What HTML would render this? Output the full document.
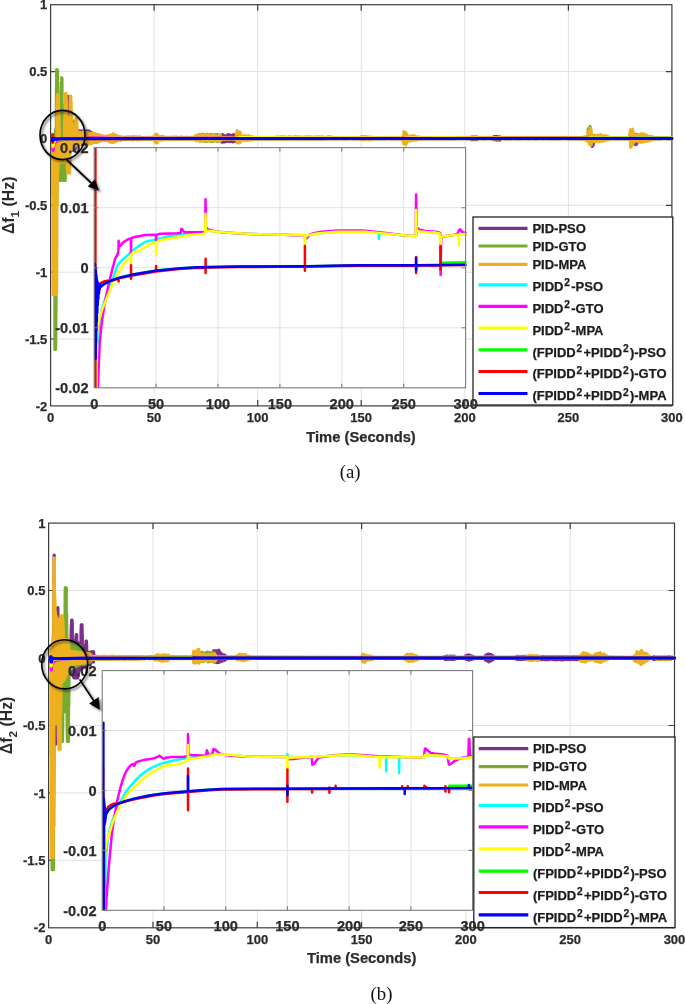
<!DOCTYPE html>
<html lang="en"><head><meta charset="utf-8"><title>Frequency deviation figure</title>
<style>html,body{margin:0;padding:0;background:#fff}svg{display:block}</style></head>
<body>
<svg width="685" height="1004" viewBox="0 0 685 1004">
<defs><filter id="sh" x="-20%" y="-20%" width="150%" height="150%"><feDropShadow dx="1.7" dy="1.7" stdDeviation="1.1" flood-color="#000" flood-opacity="0.6"/></filter></defs>
<rect width="685" height="1004" fill="#fff"/>
<clipPath id="coa"><rect x="50.6" y="4.7" width="622.8" height="401.2"/></clipPath>
<clipPath id="cia"><rect x="94.2" y="147.6" width="372.4" height="240.2"/></clipPath>
<path d="M154.1 4.7V405.9" stroke="#e1e1e1" stroke-width="1" fill="none"/>
<path d="M257.7 4.7V405.9" stroke="#e1e1e1" stroke-width="1" fill="none"/>
<path d="M361.2 4.7V405.9" stroke="#e1e1e1" stroke-width="1" fill="none"/>
<path d="M464.8 4.7V405.9" stroke="#e1e1e1" stroke-width="1" fill="none"/>
<path d="M568.4 4.7V405.9" stroke="#e1e1e1" stroke-width="1" fill="none"/>
<path d="M50.6 339H671.9" stroke="#e1e1e1" stroke-width="1" fill="none"/>
<path d="M50.6 272.2H671.9" stroke="#e1e1e1" stroke-width="1" fill="none"/>
<path d="M50.6 205.3H671.9" stroke="#e1e1e1" stroke-width="1" fill="none"/>
<path d="M50.6 138.4H671.9" stroke="#e1e1e1" stroke-width="1" fill="none"/>
<path d="M50.6 71.6H671.9" stroke="#e1e1e1" stroke-width="1" fill="none"/>
<path d="M154.1 405.9v-6M154.1 4.7v6M257.7 405.9v-6M257.7 4.7v6M361.2 405.9v-6M361.2 4.7v6M464.8 405.9v-6M464.8 4.7v6M568.4 405.9v-6M568.4 4.7v6M50.6 339h6M671.9 339h-6M50.6 272.2h6M671.9 272.2h-6M50.6 205.3h6M671.9 205.3h-6M50.6 138.4h6M671.9 138.4h-6M50.6 71.6h6M671.9 71.6h-6" stroke="#3c3c3c" stroke-width="1.2" fill="none"/>
<rect x="50.6" y="4.7" width="621.3" height="401.2" stroke="#3c3c3c" stroke-width="1.2" fill="none"/>
<text x="47.3" y="410.5" font-size="13" text-anchor="end" font-weight="bold" fill="#2b2b2b" font-family="'Liberation Sans', Arial, Helvetica, sans-serif" stroke="#2b2b2b" stroke-width="0.25">-2</text>
<text x="47.3" y="343.6" font-size="13" text-anchor="end" font-weight="bold" fill="#2b2b2b" font-family="'Liberation Sans', Arial, Helvetica, sans-serif" stroke="#2b2b2b" stroke-width="0.25">-1.5</text>
<text x="47.3" y="276.8" font-size="13" text-anchor="end" font-weight="bold" fill="#2b2b2b" font-family="'Liberation Sans', Arial, Helvetica, sans-serif" stroke="#2b2b2b" stroke-width="0.25">-1</text>
<text x="47.3" y="209.9" font-size="13" text-anchor="end" font-weight="bold" fill="#2b2b2b" font-family="'Liberation Sans', Arial, Helvetica, sans-serif" stroke="#2b2b2b" stroke-width="0.25">-0.5</text>
<text x="47.3" y="143" font-size="13" text-anchor="end" font-weight="bold" fill="#2b2b2b" font-family="'Liberation Sans', Arial, Helvetica, sans-serif" stroke="#2b2b2b" stroke-width="0.25">0</text>
<text x="47.3" y="76.2" font-size="13" text-anchor="end" font-weight="bold" fill="#2b2b2b" font-family="'Liberation Sans', Arial, Helvetica, sans-serif" stroke="#2b2b2b" stroke-width="0.25">0.5</text>
<text x="47.3" y="9.3" font-size="13" text-anchor="end" font-weight="bold" fill="#2b2b2b" font-family="'Liberation Sans', Arial, Helvetica, sans-serif" stroke="#2b2b2b" stroke-width="0.25">1</text>
<text x="50.6" y="422.1" font-size="13" text-anchor="middle" font-weight="bold" fill="#2b2b2b" font-family="'Liberation Sans', Arial, Helvetica, sans-serif" stroke="#2b2b2b" stroke-width="0.25">0</text>
<text x="154.1" y="422.1" font-size="13" text-anchor="middle" font-weight="bold" fill="#2b2b2b" font-family="'Liberation Sans', Arial, Helvetica, sans-serif" stroke="#2b2b2b" stroke-width="0.25">50</text>
<text x="257.7" y="422.1" font-size="13" text-anchor="middle" font-weight="bold" fill="#2b2b2b" font-family="'Liberation Sans', Arial, Helvetica, sans-serif" stroke="#2b2b2b" stroke-width="0.25">100</text>
<text x="361.2" y="422.1" font-size="13" text-anchor="middle" font-weight="bold" fill="#2b2b2b" font-family="'Liberation Sans', Arial, Helvetica, sans-serif" stroke="#2b2b2b" stroke-width="0.25">150</text>
<text x="464.8" y="422.1" font-size="13" text-anchor="middle" font-weight="bold" fill="#2b2b2b" font-family="'Liberation Sans', Arial, Helvetica, sans-serif" stroke="#2b2b2b" stroke-width="0.25">200</text>
<text x="568.4" y="422.1" font-size="13" text-anchor="middle" font-weight="bold" fill="#2b2b2b" font-family="'Liberation Sans', Arial, Helvetica, sans-serif" stroke="#2b2b2b" stroke-width="0.25">250</text>
<text x="671.9" y="422.1" font-size="13" text-anchor="middle" font-weight="bold" fill="#2b2b2b" font-family="'Liberation Sans', Arial, Helvetica, sans-serif" stroke="#2b2b2b" stroke-width="0.25">300</text>
<g clip-path="url(#coa)" fill="none" stroke-width="3" stroke-linejoin="round" stroke-linecap="round">
<path d="M54.7 138.4L55.2 141.4L55.2 135.5L55.7 132.5L55.7 144.3L56.1 145.8L56.1 131.1L56.6 128.1L56.6 148.7L57 150.3L57 126.5L57.5 126.5L57.5 150.3L57.9 150.3L57.9 126.5L58.4 126.5L58.4 150.3L58.8 150.3L58.8 126.5L59.3 126.5L59.3 150.3L59.8 150.3L59.8 126.5L60.2 126.5L60.2 150.3L60.7 150.3L60.7 126.5L61.1 126.5L61.1 150.3L61.6 150.3L61.6 126.5L62 126.5L62 150.3L62.5 150.3L62.5 126.5L62.9 126.5L62.9 150.3L63.4 150.3L63.4 126.5L63.9 126.5L63.9 150.3L64.3 150.3L64.3 126.5L64.8 126.5L64.8 150.3L65.2 150.3L65.2 126.5L65.7 126.5L65.7 150.3L66.1 150.3L66.1 126.5L66.6 126.5L66.6 150.3L67 150.3L67 126.5L67.5 126.5L67.5 150.3L68 150.3L68 108.5L68.4 96.4L68.4 150.3L68.9 150.3L68.9 96.4L69.3 107L69.3 150.3L69.8 150.3L69.8 123.5L70.2 126.5L70.2 150.3L70.7 150.3L70.7 126.5L71.1 126.5L71.1 150.3L71.6 150.3L71.6 126.5L72.1 126.5L72.1 150.3L72.5 150.3L72.5 126.5L73 126.5L73 150.3L73.4 150.3L73.4 124.4L73.9 121.2L73.9 150.3L74.3 150.3L74.3 121.2L74.8 121.2L74.8 150.3L75.2 149.6L75.2 122.5L75.7 125.5L75.7 147.9L76.2 146.2L76.2 128.4L76.6 130.6L76.6 144.9L77.1 144.7L77.1 130.6L77.5 130.6L77.5 144.5L78 144.3L78 130.7L78.4 130.7L78.4 144L78.9 143.8L78.9 130.8L79.3 130.8L79.3 145.1L79.8 144.9L79.8 130.9L80.3 130.9L80.3 144.6L80.7 144.4L80.7 130.9L81.2 130.9L81.2 144.4L81.6 144.4L81.6 130.9L82.1 130.9L82.1 144.3L82.5 144.3L82.5 130.9L83 130.9L83 144.3L83.4 144.2L83.4 130.9L83.9 130.9L83.9 144.2L84.4 144.2L84.4 130.9L84.8 130.9L84.8 144.1L85.3 144.1L85.3 130.9L85.7 130.9L85.7 144.1L86.2 144L86.2 130.9L86.6 130.9L86.6 144L87.1 144L87.1 130.9L87.5 130.9L87.5 143.9L88 143.9L88 130.9L88.5 130.9L88.5 143.8L88.9 143.8L88.9 130.9L89.4 131L89.4 143.8L89.8 143.5L89.8 131.9L90.3 132.7L90.3 143.3L90.7 143.1L90.7 132.1L91.2 132.9L91.2 142.9L91.6 142.6L91.6 133.7L92 135.1L92 140.8L93.1 141.1L93.1 134.9L94.1 135.6L94.1 140.1L95.1 140.6L95.1 135.2L96.2 134.6L96.2 140.8L97.2 140.7L97.2 134.6L98.2 135.8L98.2 140.3L99.3 141L99.3 135.7L100.3 135.9L100.3 140.3L101.3 139L101.3 137.7L102.4 137.9L102.4 138.9L103.4 138.9L103.4 137.7L104.4 137.6L104.4 139L105.5 138.8L105.5 137.8L106.5 137.6L106.5 139L107.6 139L107.6 137.7L108.6 137.9L108.6 139.1L109.6 139L109.6 137.7L110.7 137.8L110.7 138.9L111.7 138.9L111.7 137.7L112.7 137.8L112.7 138.9L113.8 138.8L113.8 137.6L114.8 137.7L114.8 139L115.8 138.8L115.8 137.8L116.9 137.7L116.9 138.9L117.9 138.9L117.9 137.6L118.9 137.8L118.9 138.9L120 139L120 137.8L121 137.7L121 138.9L122 139L122 137.5L123.1 137.5L123.1 138.9L124.1 138.9L124.1 137.6L125.2 137.5L125.2 138.9L126.2 139L126.2 137.6L127.2 137.7L127.2 138.8L128.3 139L128.3 137.8L129.3 137.6L129.3 139L130.3 139L130.3 137.7L131.4 137.7L131.4 138.8L132.4 138.9L132.4 137.8L133.4 137.7L133.4 138.9L134.5 138.9L134.5 137.7L135.5 137.8L135.5 138.9L136.5 139.1L136.5 137.8L137.6 137.7L137.6 139L138.6 139.1L138.6 137.5L139.7 137.7L139.7 139L140.7 138.9L140.7 137.8L141.7 137.8L141.7 139.1L142.8 139L142.8 137.7L143.8 137.8L143.8 138.9L144.8 139L144.8 137.8L145.9 137.7L145.9 138.9L146.9 139L146.9 137.8L147.9 137.7L147.9 139L149 138.9L149 137.7L150 137.6L150 138.9L151 139L151 137.6L152.1 137.6L152.1 139L153.1 139L153.1 137.6L154.1 137.7L154.1 138.9L155.2 138.9L155.2 137.6L156.2 137.7L156.2 139L157.3 138.9L157.3 137.7L158.3 137.7L158.3 139L159.3 139L159.3 137.7L160.4 137.8L160.4 138.9L161.4 138.9L161.4 137.8L162.4 137.5L162.4 139L163.5 138.9L163.5 137.8L164.5 137.6L164.5 139L165.5 138.9L165.5 137.6L166.6 137.6L166.6 138.9L167.6 138.9L167.6 137.7L168.6 137.6L168.6 139L169.7 138.9L169.7 137.8L170.7 137.8L170.7 139L171.8 139L171.8 137.8L172.8 137.8L172.8 139L173.8 139L173.8 137.8L174.9 137.8L174.9 138.9L175.9 138.9L175.9 137.7L176.9 137.8L176.9 138.9L178 138.9L178 137.5L179 137.6L179 138.9L180 139L180 137.7L181.1 137.6L181.1 138.9L182.1 139L182.1 137.8L183.1 137.6L183.1 138.9L184.2 138.9L184.2 137.6L185.2 137.6L185.2 139L186.3 138.9L186.3 137.7L187.3 137.6L187.3 138.9L188.3 138.9L188.3 137.6L189.4 137.7L189.4 139.1L190.4 139L190.4 137.6L191.4 137.7L191.4 138.9L192.5 139L192.5 137.8L193.5 137.7L193.5 138.8L194.5 138.9L194.5 137.8L195.6 137.8L195.6 138.9L196.6 139L196.6 137.7L197.6 137.6L197.6 138.8L198.7 138.9L198.7 137.6L199.7 137.6L199.7 138.9L200.7 138.8L200.7 137.7L201.8 137.9L201.8 138.9L202.8 139L202.8 137.8L203.9 137.6L203.9 139L204.9 138.8L204.9 137.7L205.9 137.8L205.9 139L207 138.9L207 137.8L208 137.9L208 139L209 138.9L209 137.9L210.1 137.9L210.1 138.8L211.1 138.9L211.1 137.7L212.1 137.7L212.1 138.9L213.2 138.9L213.2 137.9L214.2 137.8L214.2 138.9L215.2 138.9L215.2 137.9L216.3 137.9L216.3 138.8L217.3 139L217.3 137.7L218.4 137.8L218.4 138.8L219.4 138.9L219.4 137.8L220.4 135.6L220.4 140.9L221.5 142L221.5 135L222.5 134.5L222.5 142.3L223.5 141.6L223.5 135.3L224.6 135.9L224.6 142.1L225.6 141.4L225.6 135.9L226.6 135.9L226.6 141.5L227.7 141.3L227.7 134.5L228.7 135.2L228.7 141.3L229.7 141.7L229.7 134.7L230.8 135.8L230.8 141.4L231.8 140.9L231.8 135.6L232.8 134.9L232.8 141.9L233.9 141.3L233.9 134.6L234.9 135.5L234.9 141.5L236 138.9L236 138L237 137.7L237 138.7L238 138.9L238 137.9L239.1 137.8L239.1 138.8L240.1 138.9L240.1 138L241.1 137.8L241.1 138.7L242.2 138.9L242.2 137.8L243.2 137.8L243.2 138.7L244.2 138.8L244.2 137.9L245.3 137.8L245.3 138.7L246.3 138.8L246.3 138L247.3 137.9L247.3 138.8L248.4 138.8L248.4 137.9L249.4 137.8L249.4 138.9L250.5 138.8L250.5 138L251.5 137.8L251.5 138.9L252.5 138.9L252.5 137.8L253.6 137.8L253.6 138.8L254.6 138.8L254.6 137.9L255.6 138L255.6 138.7L256.7 138.8L256.7 138L257.7 137.8L257.7 138.8L258.7 138.8L258.7 137.8L259.8 137.9L259.8 138.7L260.8 138.7L260.8 137.9L261.8 138L261.8 138.8L262.9 138.8L262.9 137.8L263.9 137.8L263.9 138.8L264.9 138.7L264.9 138L266 138L266 138.8L267 138.8L267 137.9L268.1 137.9L268.1 138.7L269.1 138.7L269.1 138L270.1 138L270.1 138.8L271.2 138.9L271.2 138L272.2 137.9L272.2 138.8L273.2 138.7L273.2 138.1L274.3 137.9L274.3 138.8L275.3 138.7L275.3 138L276.3 137.9L276.3 138.8L277.4 138.7L277.4 138L278.4 137.9L278.4 138.7L279.4 138.8L279.4 137.9L280.5 138L280.5 138.8L281.5 138.8L281.5 137.9L282.6 137.9L282.6 138.8L283.6 138.7L283.6 137.9L284.6 138.1L284.6 138.8L285.7 138.7L285.7 138.1L286.7 137.9L286.7 138.8L287.7 138.8L287.7 138L288.8 138L288.8 138.8L289.8 138.7L289.8 138.1L290.8 137.9L290.8 138.8L291.9 138.7L291.9 138L292.9 137.9L292.9 138.8L293.9 138.7L293.9 138.1L295 138L295 138.8L296 138.8L296 138.1L297 137.9L297 138.7L298.1 138.7L298.1 138L299.1 138.1L299.1 138.8L300.2 138.7L300.2 138.1L301.2 138L301.2 138.7L302.2 138.7L302.2 138.1L303.3 138.1L303.3 138.8L304.3 138.6L304.3 138.1L305.3 138.1L305.3 138.7L306.4 138.7L306.4 138L307.4 138L307.4 138.8L308.4 138.6L308.4 138.1L309.5 138L309.5 138.7L310.5 138.7L310.5 138.1L311.5 138.1L311.5 138.7L312.6 138.7L312.6 138L313.6 138.1L313.6 138.7L314.7 138.7L314.7 138.1L315.7 138.1L315.7 138.7L316.7 138.6L316.7 138.1L317.8 138.2L317.8 138.7L318.8 138.7L318.8 138.2L319.8 138.1L319.8 138.6L320.9 138.7L320.9 138.2L321.9 138.1L321.9 138.7L322.9 138.7L322.9 138L324 138.1L324 138.6L325 138.7L325 138.1L326 138.1L326 138.7L327.1 138.7L327.1 138.2L328.1 138.1L328.1 138.6L329.1 138.6L329.1 138.1L330.2 138.1L330.2 138.6L331.2 138.6L331.2 138.2L332.3 138.1L332.3 138.6L333.3 138.7L333.3 138L334.3 138.1L334.3 138.7L335.4 138.6L335.4 138.1L336.4 138L336.4 138.7L337.4 138.7L337.4 138.1L338.5 138.2L338.5 138.7L339.5 138.6L339.5 138.1L340.5 138.1L340.5 138.6L341.6 138.7L341.6 138.1L342.6 138.2L342.6 138.6L343.6 138.7L343.6 138.1L344.7 138.2L344.7 138.7L345.7 138.7L345.7 138.1L346.8 138.1L346.8 138.7L347.8 138.7L347.8 138.2L348.8 138.1L348.8 138.6L349.9 138.6L349.9 138L350.9 138L350.9 138.7L351.9 138.7L351.9 138.1L353 138.1L353 138.6L354 138.7L354 138.1L355 138.1L355 138.7L356.1 138.6L356.1 138L357.1 138.2L357.1 138.7L358.1 138.7L358.1 138L359.2 138.2L359.2 138.7L360.2 138.7L360.2 138L361.2 138.1L361.2 138.7L362.3 138.7L362.3 138.1L363.3 138.1L363.3 138.7L364.4 138.7L364.4 138.1L365.4 138L365.4 138.6L366.4 138.7L366.4 138.2L367.5 138.1L367.5 138.6L368.5 138.7L368.5 138L369.5 138L369.5 138.6L370.6 138.7L370.6 138.1L371.6 138.1L371.6 138.7L372.6 138.7L372.6 138L373.7 138.1L373.7 138.6L374.7 138.7L374.7 138.2L375.7 138.1L375.7 138.7L376.8 138.7L376.8 138.1L377.8 138.1L377.8 138.7L378.9 138.7L378.9 138.1L379.9 138.1L379.9 138.6L380.9 138.7L380.9 138.1L382 138.1L382 138.7L383 138.7L383 138L384 138.1L384 138.7L385.1 138.7L385.1 138L386.1 138L386.1 138.7L387.1 138.6L387.1 138.1L388.2 138L388.2 138.6L389.2 138.7L389.2 138L390.2 138.1L390.2 138.7L391.3 138.7L391.3 138.1L392.3 138.2L392.3 138.7L393.4 138.6L393.4 138.1L394.4 138.2L394.4 138.7L395.4 138.7L395.4 138.1L396.5 138.2L396.5 138.7L397.5 138.7L397.5 138.2L398.5 138.1L398.5 138.6L399.6 138.7L399.6 138.1L400.6 138.1L400.6 138.7L401.6 138.6L401.6 138L402.7 138L402.7 138.6L403.7 138.7L403.7 138.2L404.7 138.1L404.7 138.7L405.8 138.7L405.8 138.1L406.8 138.1L406.8 138.7L407.8 138.7L407.8 138.1L408.9 138.1L408.9 138.7L409.9 138.7L409.9 138L411 138.1L411 138.7L412 138.6L412 138.1L413 138.1L413 138.7L414.1 138.7L414.1 138.2L415.1 138.1L415.1 138.7L416.1 138.6L416.1 138.2L417.2 138.2L417.2 138.6L418.2 138.7L418.2 138.2L419.2 138.1L419.2 138.6L420.3 138.6L420.3 138.1L421.3 138.1L421.3 138.6L422.3 138.7L422.3 138.1L423.4 138L423.4 138.7L424.4 138.7L424.4 138.1L425.5 138L425.5 138.6L426.5 138.7L426.5 138.1L427.5 138.1L427.5 138.7L428.6 138.7L428.6 138.1L429.6 138.1L429.6 138.7L430.6 138.7L430.6 138.1L431.7 138L431.7 138.7L432.7 138.7L432.7 138.1L433.7 138.2L433.7 138.7L434.8 138.6L434.8 138.1L435.8 138L435.8 138.7L436.8 138.7L436.8 138.2L437.9 138.1L437.9 138.7L438.9 138.6L438.9 138.1L439.9 138.2L439.9 138.7L441 138.7L441 138.1L442 138.1L442 138.7L443.1 138.7L443.1 138.1L444.1 138.1L444.1 138.7L445.1 138.6L445.1 138L446.2 138.1L446.2 138.7L447.2 138.7L447.2 138.1L448.2 138.2L448.2 138.7L449.3 138.7L449.3 138.1L450.3 138.1L450.3 138.7L451.3 138.7L451.3 138L452.4 138L452.4 138.7L453.4 138.6L453.4 138.2L454.4 138.2L454.4 138.7L455.5 138.7L455.5 138.2L456.5 138.1L456.5 138.7L457.6 138.6L457.6 138.1L458.6 138.1L458.6 138.6L459.6 138.6L459.6 138.1L460.7 138.1L460.7 138.7L461.7 138.6L461.7 138.2L462.7 138.1L462.7 138.6L463.8 138.7L463.8 138L464.8 138L464.8 138.6L465.8 138.7L465.8 138.1L466.9 138.1L466.9 138.7L467.9 138.7L467.9 138L468.9 138.1L468.9 138.7L470 138.7L470 138.1L471 137.2L471 139.4L472 139.8L472 137.1L473.1 137.1L473.1 139.7L474.1 139.6L474.1 137L475.2 137.3L475.2 139.7L476.2 139.8L476.2 136.8L477.2 137.2L477.2 139.6L478.3 138.7L478.3 138.1L479.3 138.1L479.3 138.6L480.3 138.6L480.3 138.1L481.4 138.1L481.4 138.7L482.4 138.7L482.4 138.1L483.4 138.1L483.4 138.6L484.5 138.7L484.5 138.1L485.5 138.2L485.5 138.7L486.5 138.7L486.5 138L487.6 138.2L487.6 138.6L488.6 138.6L488.6 138L489.7 138.1L489.7 138.6L490.7 138.7L490.7 138.1L491.7 138L491.7 138.7L492.8 138.7L492.8 138.1L493.8 136.5L493.8 139.8L494.8 139.8L494.8 136.8L495.9 136.4L495.9 139.8L496.9 140.1L496.9 136.5L497.9 136.7L497.9 139.7L499 140.1L499 137.1L500 136.8L500 140.2L501 138.7L501 138.1L502.1 138.1L502.1 138.6L503.1 138.6L503.1 138.1L504.1 138.1L504.1 138.7L505.2 138.7L505.2 138.1L506.2 138.1L506.2 138.6L507.3 138.7L507.3 138.1L508.3 138.1L508.3 138.7L509.3 138.7L509.3 138.1L510.4 138.1L510.4 138.7L511.4 138.7L511.4 138.1L512.4 138L512.4 138.6L513.5 138.6L513.5 138.1L514.5 138.1L514.5 138.7L515.5 138.7L515.5 138L516.6 138L516.6 138.6L517.6 138.7L517.6 138.1L518.6 138.1L518.6 138.7L519.7 138.6L519.7 138.1L520.7 138.1L520.7 138.7L521.8 138.7L521.8 138.1L522.8 138.1L522.8 138.7L523.8 138.6L523.8 138.1L524.9 138.2L524.9 138.6L525.9 138.7L525.9 138.1L526.9 138.2L526.9 138.6L528 138.7L528 138.1L529 138L529 138.7L530 138.7L530 138.2L531.1 138.2L531.1 138.6L532.1 138.6L532.1 138.1L533.1 138.1L533.1 138.7L534.2 138.7L534.2 138.1L535.2 138.2L535.2 138.7L536.2 138.7L536.2 138.2L537.3 138.1L537.3 138.7L538.3 138.7L538.3 138.1L539.4 138L539.4 138.6L540.4 138.6L540.4 138L541.4 138.1L541.4 138.6L542.5 138.7L542.5 138.1L543.5 138.1L543.5 138.7L544.5 138.6L544.5 138.1L545.6 138.1L545.6 138.6L546.6 138.6L546.6 138L547.6 138.1L547.6 138.6L548.7 138.6L548.7 138.2L549.7 138.1L549.7 138.7L550.7 138.7L550.7 138L551.8 138L551.8 138.7L552.8 138.7L552.8 138.1L553.9 138.2L553.9 138.7L554.9 138.7L554.9 138L555.9 138L555.9 138.7L557 138.7L557 138.1L558 138.1L558 138.7L559 138.7L559 138.1L560.1 138.1L560.1 138.7L561.1 138.7L561.1 138.2L562.1 138L562.1 138.6L563.2 138.6L563.2 138.1L564.2 138.2L564.2 138.6L565.2 138.6L565.2 138L566.3 138.1L566.3 138.6L567.3 138.7L567.3 138.2L568.4 138.2L568.4 138.7L569.4 138.7L569.4 138L570.4 138.2L570.4 138.7L571.5 138.7L571.5 138L572.5 138L572.5 138.7L573.5 138.7L573.5 138.2L574.6 138.1L574.6 138.7L575.6 138.7L575.6 138L576.6 138.1L576.6 138.7L577.7 138.7L577.7 138L578.7 138.1L578.7 138.7L579.7 138.7L579.7 138.1L580.8 138.1L580.8 138.7L581.8 138.7L581.8 138L582.8 138L582.8 138.7L583.9 138.6L583.9 138.1L584.9 138.1L584.9 138.6L586 138.7L586 138.1L587 138.1L587 138.7L588 138.7L588 138.2L589.1 138.1L589.1 138.7L590.1 138.7L590.1 138.1L591.1 136.5L591.1 145.3L592.2 146.4L592.2 136.5L593.2 135.9L593.2 145.2L594.2 138.6L594.2 138.2L595.3 138.1L595.3 138.7L596.3 138.6L596.3 138.2L597.3 138.2L597.3 138.7L598.4 138.7L598.4 138.1L599.4 138L599.4 138.7L600.5 138.7L600.5 138L601.5 138.1L601.5 138.7L602.5 138.7L602.5 138.1L603.6 138L603.6 138.6L604.6 138.7L604.6 138.1L605.6 138.1L605.6 138.7L606.7 138.6L606.7 138.1L607.7 138.2L607.7 138.6L608.7 138.6L608.7 138L609.8 138.2L609.8 138.7L610.8 138.6L610.8 138.1L611.8 138L611.8 138.6L612.9 138.7L612.9 138.1L613.9 138.1L613.9 138.6L614.9 138.7L614.9 138.1L616 138L616 138.7L617 138.7L617 138.1L618.1 138.2L618.1 138.7L619.1 138.7L619.1 138L620.1 138.2L620.1 138.7L621.2 138.7L621.2 138.1L622.2 138L622.2 138.6L623.2 138.6L623.2 138.2L624.3 138.1L624.3 138.7L625.3 138.7L625.3 138.1L626.3 138.2L626.3 138.7L627.4 138.6L627.4 138.1L628.4 138.2L628.4 138.6L629.4 138.7L629.4 138.2L630.5 138.2L630.5 138.6L631.5 138.7L631.5 138.1L632.6 138.1L632.6 138.7L633.6 138.7L633.6 138.1L634.6 134.8L634.6 144.1L635.7 144.8L635.7 135L636.7 134.8L636.7 143.9L637.7 138.6L637.7 138.2L638.8 138.1L638.8 138.6L639.8 138.6L639.8 138.2L640.8 138.1L640.8 138.7L641.9 138.7L641.9 138L642.9 138.1L642.9 138.7L643.9 138.6L643.9 138.1L645 138.1L645 138.7L646 138.7L646 138.1L647 138L647 138.7L648.1 138.7L648.1 138L649.1 138.1L649.1 138.6L650.2 138.7L650.2 138L651.2 138.1L651.2 138.6L652.2 138.7L652.2 138.1L653.3 138.1L653.3 138.7L654.3 138.7L654.3 138.1L655.3 138.1L655.3 138.7L656.4 138.7L656.4 138.1L657.4 138.1L657.4 138.7L658.4 138.7L658.4 138.2L659.5 138L659.5 138.7L660.5 138.7L660.5 138.1L661.5 138L661.5 138.7L662.6 138.6L662.6 138.2L663.6 138L663.6 138.6L664.7 138.6L664.7 138.1L665.7 138L665.7 138.6L666.7 138.7L666.7 138.2L667.8 138.1L667.8 138.7L668.8 138.7L668.8 138.1L669.8 138.1L669.8 138.7L670.9 138.6L670.9 138.1L671.9 138.1L671.9 138.7" stroke="#7E2F8E"/>
<path d="M53.9 138.4L54.4 253.9L54.4 138.4L54.8 137.5L54.8 349.6L55.3 349.6L55.3 132.6L55.7 129.2L55.7 349.6L56.2 296.6L56.2 103.7L56.6 69.4L56.6 209.7L57.1 186.2L57.1 69.4L57.6 70.5L57.6 164.2L58 174.8L58 93.8L58.5 106.5L58.5 180.6L58.9 180.6L58.9 106.5L59.4 106.5L59.4 180.6L59.8 180.6L59.8 106.5L60.3 106.5L60.3 180.6L60.7 160.4L60.7 102L61.2 81.9L61.2 150.3L61.7 150.3L61.7 77.5L62.1 78.6L62.1 151.5L62.6 178.1L62.6 104.1L63 109.6L63 180.6L63.5 180.6L63.5 113L63.9 116.3L63.9 180.6L64.4 180.6L64.4 119.7L64.8 123.1L64.8 180.6L65.3 180.6L65.3 126.5L65.8 130.2L65.8 163.9L66.2 150.3L66.2 131.8L66.7 131.8L66.7 149.9L67.1 149.5L67.1 131.9L67.6 132L67.6 149.1L68 148.7L68 132L68.5 132.1L68.5 148.3L68.9 147.9L68.9 132.2L69.4 132.2L69.4 147.5L69.9 147.1L69.9 132.3L70.3 132.3L70.3 146.7L70.8 146.3L70.8 132.4L71.2 132.5L71.2 145.9L71.7 145.6L71.7 132.5L72.1 132.6L72.1 145.2L72.6 144.8L72.6 132.7L73 132.7L73 144.4L73.5 144L73.5 132.8L74 132.9L74 145.1L74.4 144.7L74.4 132.9L74.9 133L74.9 144.3L75.3 143.9L75.3 133.1L75.8 133.1L75.8 143.8L76.2 143.7L76.2 133.1L76.7 133.2L76.7 143.7L77.2 143.6L77.2 133.2L77.6 133.3L77.6 143.6L78.1 143.6L78.1 133.3L78.5 133.3L78.5 143.5L79 143.5L79 133.4L79.4 133.4L79.4 143.5L79.9 143.4L79.9 133.4L80.3 133.5L80.3 143.4L80.8 143.4L80.8 133.5L81.3 133.6L81.3 143.3L81.7 143.3L81.7 133.6L82.2 133.6L82.2 143.2L82.6 143.2L82.6 133.7L83.1 133.7L83.1 143.2L83.5 143.1L83.5 133.7L84 133.8L84 143.1L84.4 143.1L84.4 133.8L84.9 133.8L84.9 143L85.4 143L85.4 133.9L85.8 133.9L85.8 142.9L86.3 142.9L86.3 134L86.7 134L86.7 142.9L87.2 142.8L87.2 134L87.6 134.1L87.6 142.8L88.1 142.8L88.1 134.1L88.5 134.1L88.5 142.7L89 142.7L89 134.2L89.5 134.2L89.5 142.7L89.9 142.6L89.9 134.3L90.4 134.3L90.4 142.6L90.8 142.5L90.8 134.3L91.3 134.4L91.3 142.5L91.7 142.5L91.7 134.4L92 136.4L92 140L93.1 139.6L93.1 136.8L94.1 136.2L94.1 139.6L95.1 139.5L95.1 136.4L96.2 136.4L96.2 139.7L97.2 139.5L97.2 136.5L98.2 136.6L98.2 139.6L99.3 139.6L99.3 136.2L100.3 136.5L100.3 139.8L101.3 139.7L101.3 136.5L102.4 136.2L102.4 139.8L103.4 139.6L103.4 136.3L104.4 136.7L104.4 139.6L105.5 140L105.5 136.3L106.5 136.6L106.5 139.5L107.6 139.9L107.6 136L108.6 135.9L108.6 139.8L109.6 139.8L109.6 136.3L110.7 135.9L110.7 139.5L111.7 139.4L111.7 136.7L112.7 136.3L112.7 139.9L113.8 138.9L113.8 137.8L114.8 137.6L114.8 139L115.8 139.2L115.8 137.8L116.9 137.7L116.9 139.2L117.9 139.2L117.9 137.5L118.9 137.7L118.9 139.1L120 139L120 137.7L121 137.7L121 139L122 139L122 137.6L123.1 137.6L123.1 139.2L124.1 139.1L124.1 137.7L125.2 137.5L125.2 139.2L126.2 139L126.2 137.6L127.2 137.6L127.2 139.1L128.3 139.1L128.3 137.6L129.3 137.5L129.3 139L130.3 139.1L130.3 137.5L131.4 137.7L131.4 138.9L132.4 139L132.4 137.5L133.4 137.4L133.4 138.9L134.5 139.1L134.5 137.6L135.5 137.4L135.5 139L136.5 139L136.5 137.6L137.6 137.5L137.6 139L138.6 138.9L138.6 137.6L139.7 137.6L139.7 139.2L140.7 139.1L140.7 137.5L141.7 137.6L141.7 139L142.8 139.2L142.8 137.4L143.8 137.6L143.8 139.1L144.8 139.2L144.8 137.8L145.9 137.6L145.9 139L146.9 138.9L146.9 137.4L147.9 137.6L147.9 138.9L149 139.1L149 137.8L150 137.7L150 139.1L151 138.9L151 137.8L152.1 137.4L152.1 139L153.1 139L153.1 137.4L154.1 137.4L154.1 139.1L155.2 138.9L155.2 137.5L156.2 137.5L156.2 138.9L157.3 139L157.3 137.7L158.3 137.7L158.3 138.9L159.3 139.2L159.3 137.6L160.4 137.6L160.4 138.9L161.4 139.1L161.4 137.8L162.4 137.4L162.4 139L163.5 139.1L163.5 137.6L164.5 137.6L164.5 138.9L165.5 139L165.5 137.7L166.6 137.7L166.6 139L167.6 138.9L167.6 137.6L168.6 137.4L168.6 139.1L169.7 139L169.7 137.5L170.7 137.6L170.7 139.1L171.8 139L171.8 137.8L172.8 137.5L172.8 139L173.8 139L173.8 137.7L174.9 137.5L174.9 139L175.9 139.2L175.9 137.8L176.9 137.5L176.9 139.1L178 139L178 137.6L179 137.6L179 139L180 138.9L180 137.6L181.1 137.7L181.1 139L182.1 139.1L182.1 137.6L183.1 137.4L183.1 138.9L184.2 139L184.2 137.8L185.2 137.7L185.2 139.1L186.3 139L186.3 137.8L187.3 137.5L187.3 139L188.3 138.9L188.3 137.6L189.4 137.7L189.4 139.1L190.4 138.9L190.4 137.7L191.4 137.6L191.4 139L192.5 138.9L192.5 137.6L193.5 137.8L193.5 138.9L194.5 139.1L194.5 137.5L195.6 137.5L195.6 138.9L196.6 139L196.6 137.8L197.6 137.5L197.6 139L198.7 138.9L198.7 137.6L199.7 134.3L199.7 141L200.7 141L200.7 134.7L201.8 135.3L201.8 140.9L202.8 140.8L202.8 134L203.9 134.6L203.9 140.7L204.9 141.5L204.9 135.1L205.9 135.2L205.9 141L207 141.3L207 134L208 134.9L208 141L209 140.7L209 134.7L210.1 134.6L210.1 141L211.1 141.4L211.1 134.2L212.1 134.6L212.1 141.5L213.2 141.6L213.2 135.4L214.2 134.6L214.2 140.6L215.2 140.8L215.2 134.8L216.3 134.7L216.3 140.5L217.3 141.6L217.3 134.4L218.4 135.3L218.4 141.2L219.4 139L219.4 137.8L220.4 137.9L220.4 138.9L221.5 138.9L221.5 137.8L222.5 137.9L222.5 138.9L223.5 138.9L223.5 137.7L224.6 137.8L224.6 138.9L225.6 139L225.6 137.8L226.6 137.9L226.6 139L227.7 138.9L227.7 137.8L228.7 137.8L228.7 138.8L229.7 139L229.7 137.8L230.8 137.8L230.8 138.9L231.8 138.8L231.8 137.7L232.8 137.6L232.8 138.9L233.9 138.8L233.9 137.6L234.9 137.9L234.9 138.8L236 138.8L236 137.9L237 137.7L237 138.8L238 138.9L238 137.9L239.1 137.7L239.1 138.8L240.1 138.8L240.1 137.9L241.1 137.7L241.1 138.9L242.2 139L242.2 137.7L243.2 137.7L243.2 138.8L244.2 138.8L244.2 137.9L245.3 137.9L245.3 139L246.3 138.9L246.3 137.7L247.3 137.9L247.3 138.9L248.4 139L248.4 138L249.4 137.9L249.4 138.8L250.5 138.9L250.5 137.8L251.5 138L251.5 138.8L252.5 139L252.5 138L253.6 138L253.6 139L254.6 138.8L254.6 137.9L255.6 137.8L255.6 138.9L256.7 138.8L256.7 137.9L257.7 137.7L257.7 138.9L258.7 138.8L258.7 137.9L259.8 137.8L259.8 138.9L260.8 138.9L260.8 137.9L261.8 137.8L261.8 138.9L262.9 138.8L262.9 137.7L263.9 137.9L263.9 138.8L264.9 138.9L264.9 137.9L266 137.9L266 138.7L267 138.9L267 137.9L268.1 137.9L268.1 138.8L269.1 138.9L269.1 137.9L270.1 138L270.1 138.8L271.2 138.8L271.2 138L272.2 137.9L272.2 138.9L273.2 138.8L273.2 137.8L274.3 137.8L274.3 138.8L275.3 138.8L275.3 137.8L276.3 137.1L276.3 138.8L277.4 138.8L277.4 136.9L278.4 137.3L278.4 139L279.4 138.8L279.4 137.2L280.5 137L280.5 139L281.5 138.8L281.5 136.9L282.6 137.2L282.6 138.9L283.6 138.9L283.6 136.9L284.6 137.2L284.6 139L285.7 138.9L285.7 137L286.7 137.5L286.7 138.9L287.7 139L287.7 137.5L288.8 136.9L288.8 138.8L289.8 138.8L289.8 137.4L290.8 137L290.8 139L291.9 138.9L291.9 137.3L292.9 137.3L292.9 138.8L293.9 139L293.9 137.2L295 136.9L295 138.9L296 138.8L296 137.1L297 136.9L297 138.9L298.1 138.8L298.1 137L299.1 137.1L299.1 139L300.2 138.8L300.2 137.1L301.2 137.3L301.2 138.8L302.2 139L302.2 137.5L303.3 137.2L303.3 138.9L304.3 138.8L304.3 137.1L305.3 136.9L305.3 139L306.4 138.8L306.4 137L307.4 136.9L307.4 139L308.4 138.9L308.4 136.9L309.5 136.9L309.5 138.8L310.5 138.9L310.5 136.9L311.5 137.4L311.5 138.9L312.6 139L312.6 137.2L313.6 137.3L313.6 138.9L314.7 138.8L314.7 136.9L315.7 137L315.7 138.9L316.7 139L316.7 137.2L317.8 137.1L317.8 138.9L318.8 138.9L318.8 137L319.8 136.9L319.8 138.9L320.9 138.9L320.9 137.3L321.9 137L321.9 138.9L322.9 138.8L322.9 137L324 137.4L324 138.9L325 138.8L325 137.4L326 137.2L326 138.8L327.1 138.8L327.1 137.3L328.1 136.9L328.1 138.8L329.1 138.8L329.1 137L330.2 137L330.2 138.9L331.2 138.8L331.2 137L332.3 137.3L332.3 138.9L333.3 138.7L333.3 138.1L334.3 138L334.3 138.6L335.4 138.7L335.4 138.1L336.4 138L336.4 138.7L337.4 138.7L337.4 138L338.5 138.1L338.5 138.7L339.5 138.7L339.5 138L340.5 138.1L340.5 138.7L341.6 138.7L341.6 138.1L342.6 138L342.6 138.8L343.6 138.7L343.6 138.1L344.7 138.1L344.7 138.7L345.7 138.7L345.7 138L346.8 138L346.8 138.7L347.8 138.7L347.8 138.1L348.8 138L348.8 138.6L349.9 138.7L349.9 138L350.9 138.1L350.9 138.6L351.9 138.7L351.9 138L353 138.1L353 138.7L354 138.7L354 138.1L355 138L355 138.6L356.1 138.7L356.1 138.1L357.1 138.1L357.1 138.8L358.1 138.8L358.1 138.1L359.2 138.1L359.2 138.7L360.2 138.7L360.2 138.1L361.2 138L361.2 138.7L362.3 138.7L362.3 138.1L363.3 138L363.3 138.6L364.4 138.7L364.4 138.1L365.4 138.1L365.4 138.7L366.4 138.7L366.4 138L367.5 138L367.5 138.7L368.5 138.7L368.5 138L369.5 138L369.5 138.7L370.6 138.6L370.6 138.1L371.6 138.1L371.6 138.7L372.6 138.8L372.6 138L373.7 138.1L373.7 138.7L374.7 138.7L374.7 138L375.7 138L375.7 138.7L376.8 138.7L376.8 138L377.8 138.1L377.8 138.7L378.9 138.7L378.9 138L379.9 138L379.9 138.7L380.9 138.7L380.9 138L382 138L382 138.7L383 138.7L383 138L384 138L384 138.7L385.1 138.7L385.1 138L386.1 138L386.1 138.6L387.1 138.7L387.1 138L388.2 138.1L388.2 138.6L389.2 138.7L389.2 138L390.2 138.1L390.2 138.6L391.3 138.7L391.3 138.1L392.3 138L392.3 138.8L393.4 138.8L393.4 138L394.4 138L394.4 138.7L395.4 138.7L395.4 138.1L396.5 138.1L396.5 138.6L397.5 138.7L397.5 138.1L398.5 138.1L398.5 138.7L399.6 138.7L399.6 138.1L400.6 138.1L400.6 138.7L401.6 138.7L401.6 138L402.7 138.1L402.7 138.7L403.7 138.7L403.7 138.1L404.7 138.1L404.7 138.7L405.8 138.7L405.8 138.1L406.8 138L406.8 138.7L407.8 138.7L407.8 138.1L408.9 138L408.9 138.8L409.9 138.6L409.9 138.1L411 138.1L411 138.7L412 138.7L412 138L413 138L413 138.7L414.1 138.7L414.1 138.1L415.1 138L415.1 138.7L416.1 138.7L416.1 138L417.2 138L417.2 138.7L418.2 138.7L418.2 138.1L419.2 138.1L419.2 138.6L420.3 138.7L420.3 138L421.3 138L421.3 138.7L422.3 138.7L422.3 138L423.4 138.1L423.4 138.6L424.4 138.6L424.4 138.1L425.5 138L425.5 138.7L426.5 138.6L426.5 138L427.5 138.1L427.5 138.6L428.6 138.7L428.6 138.1L429.6 138.1L429.6 138.7L430.6 138.7L430.6 138.1L431.7 138.1L431.7 138.6L432.7 138.7L432.7 138.1L433.7 138.1L433.7 138.7L434.8 138.7L434.8 138.1L435.8 138.1L435.8 138.6L436.8 138.7L436.8 138L437.9 138.1L437.9 138.6L438.9 138.7L438.9 138L439.9 138.1L439.9 138.8L441 138.7L441 138.1L442 138.1L442 138.7L443.1 138.7L443.1 138.1L444.1 138.1L444.1 138.8L445.1 138.7L445.1 138.1L446.2 138.1L446.2 138.7L447.2 138.8L447.2 138.1L448.2 138L448.2 138.7L449.3 138.7L449.3 138L450.3 138.1L450.3 138.7L451.3 138.7L451.3 138L452.4 138.1L452.4 138.8L453.4 138.7L453.4 138L454.4 138L454.4 138.7L455.5 138.8L455.5 138.1L456.5 138L456.5 138.8L457.6 138.8L457.6 138L458.6 138L458.6 138.7L459.6 138.7L459.6 138L460.7 138.1L460.7 138.6L461.7 138.7L461.7 138L462.7 138L462.7 138.8L463.8 138.7L463.8 138.1L464.8 138.1L464.8 138.6L465.8 138.8L465.8 138L466.9 138L466.9 138.7L467.9 138.7L467.9 138.1L468.9 138.1L468.9 138.7L470 138.7L470 138L471 138.1L471 138.7L472 138.7L472 138L473.1 138.1L473.1 138.7L474.1 138.7L474.1 138L475.2 138L475.2 138.7L476.2 138.7L476.2 138.1L477.2 138L477.2 138.7L478.3 138.7L478.3 138L479.3 138.1L479.3 138.7L480.3 138.7L480.3 138.1L481.4 138.1L481.4 138.8L482.4 138.7L482.4 138.1L483.4 138L483.4 138.8L484.5 138.7L484.5 138L485.5 138.1L485.5 138.7L486.5 138.7L486.5 138.1L487.6 138.1L487.6 138.8L488.6 138.7L488.6 138L489.7 138.1L489.7 138.7L490.7 138.6L490.7 138.1L491.7 138L491.7 138.8L492.8 138.7L492.8 138.1L493.8 138.1L493.8 138.7L494.8 138.7L494.8 138L495.9 138.1L495.9 138.7L496.9 138.7L496.9 138L497.9 138L497.9 138.8L499 138.8L499 138.1L500 138.1L500 138.6L501 138.7L501 138.1L502.1 138L502.1 138.8L503.1 138.7L503.1 138.1L504.1 138.1L504.1 138.7L505.2 138.7L505.2 138.1L506.2 138.1L506.2 138.7L507.3 138.7L507.3 138L508.3 138L508.3 138.7L509.3 138.7L509.3 138L510.4 138.1L510.4 138.7L511.4 138.8L511.4 138L512.4 138L512.4 138.8L513.5 138.7L513.5 138L514.5 138L514.5 138.7L515.5 138.7L515.5 138L516.6 138.1L516.6 138.7L517.6 138.7L517.6 138.1L518.6 138L518.6 138.8L519.7 138.7L519.7 138.1L520.7 138.1L520.7 138.7L521.8 138.7L521.8 138L522.8 138.1L522.8 138.6L523.8 138.7L523.8 138L524.9 138.1L524.9 138.7L525.9 138.7L525.9 138L526.9 138L526.9 138.6L528 138.7L528 138L529 138.1L529 138.7L530 138.6L530 138L531.1 138L531.1 138.7L532.1 138.7L532.1 138.1L533.1 138L533.1 138.7L534.2 138.7L534.2 138L535.2 138.1L535.2 138.7L536.2 138.7L536.2 138L537.3 138L537.3 138.8L538.3 138.7L538.3 138L539.4 138.1L539.4 138.8L540.4 138.7L540.4 138L541.4 138L541.4 138.7L542.5 138.7L542.5 138L543.5 138L543.5 138.7L544.5 138.8L544.5 138L545.6 138L545.6 138.7L546.6 138.7L546.6 138.1L547.6 138L547.6 138.7L548.7 138.7L548.7 138L549.7 138.1L549.7 138.7L550.7 138.8L550.7 138L551.8 138L551.8 138.7L552.8 138.7L552.8 138.1L553.9 138L553.9 138.7L554.9 138.7L554.9 138.1L555.9 138.1L555.9 138.7L557 138.7L557 138L558 138.1L558 138.8L559 138.8L559 138.1L560.1 138.1L560.1 138.7L561.1 138.7L561.1 138L562.1 138L562.1 138.7L563.2 138.7L563.2 138L564.2 138.1L564.2 138.7L565.2 138.7L565.2 138.1L566.3 138.1L566.3 138.6L567.3 138.7L567.3 138L568.4 138.1L568.4 138.7L569.4 138.7L569.4 138L570.4 138L570.4 138.7L571.5 138.7L571.5 138L572.5 138.1L572.5 138.7L573.5 138.7L573.5 138L574.6 138L574.6 138.7L575.6 138.7L575.6 138.1L576.6 138.1L576.6 138.6L577.7 138.8L577.7 138.1L578.7 138L578.7 138.7L579.7 138.6L579.7 138L580.8 138.1L580.8 138.7L581.8 138.7L581.8 138L582.8 138L582.8 138.8L583.9 138.7L583.9 138L584.9 138L584.9 138.7L586 138.7L586 138.1L587 138L587 138.6L588 139L588 129.5L589.1 128L589.1 139.3L590.1 139.7L590.1 126.3L591.1 134.6L591.1 138.8L592.2 138.7L592.2 138.1L593.2 138L593.2 138.7L594.2 138.7L594.2 138L595.3 138L595.3 138.7L596.3 138.7L596.3 138L597.3 138L597.3 138.7L598.4 138.6L598.4 138L599.4 138L599.4 138.7L600.5 138.7L600.5 138.1L601.5 138L601.5 138.8L602.5 138.7L602.5 138.1L603.6 138L603.6 138.7L604.6 138.7L604.6 138.1L605.6 138.1L605.6 138.7L606.7 138.8L606.7 138L607.7 138.1L607.7 138.6L608.7 138.7L608.7 138L609.8 138.1L609.8 138.7L610.8 138.7L610.8 138.1L611.8 138.1L611.8 138.6L612.9 138.7L612.9 138L613.9 138L613.9 138.7L614.9 138.7L614.9 138L616 138.1L616 138.7L617 138.7L617 138L618.1 138.1L618.1 138.7L619.1 138.7L619.1 138L620.1 138.1L620.1 138.8L621.2 138.7L621.2 138L622.2 138.1L622.2 138.8L623.2 138.7L623.2 138L624.3 138.1L624.3 138.7L625.3 138.7L625.3 138L626.3 138.1L626.3 138.7L627.4 138.7L627.4 138.1L628.4 138.1L628.4 138.7L629.4 138.7L629.4 138L630.5 138.1L630.5 138.7L631.5 138.7L631.5 138.1L632.6 138.1L632.6 138.7L633.6 138.7L633.6 138L634.6 138L634.6 138.8L635.7 138.6L635.7 138.1L636.7 138L636.7 138.8L637.7 138.7L637.7 138.1L638.8 138.1L638.8 138.7L639.8 138.7L639.8 138.1L640.8 138L640.8 138.7L641.9 138.7L641.9 138L642.9 138L642.9 138.7L643.9 138.7L643.9 138.1L645 138.1L645 138.7L646 138.7L646 138.1L647 138.1L647 138.7L648.1 138.7L648.1 138.1L649.1 138.1L649.1 138.8L650.2 138.8L650.2 138L651.2 138.1L651.2 138.7L652.2 138.7L652.2 138.1L653.3 138L653.3 138.7L654.3 138.7L654.3 138L655.3 138L655.3 138.6L656.4 138.7L656.4 138L657.4 138L657.4 138.7L658.4 138.7L658.4 138.1L659.5 138.1L659.5 138.8L660.5 138.8L660.5 138.1L661.5 138.1L661.5 138.7L662.6 138.7L662.6 138.1L663.6 138.1L663.6 138.6L664.7 138.7L664.7 138.1L665.7 138L665.7 138.8L666.7 138.7L666.7 138.1L667.8 138.1L667.8 138.6L668.8 138.7L668.8 138L669.8 138L669.8 138.8L670.9 138.8L670.9 138.1L671.9 138.1L671.9 138.8" stroke="#77AC30"/>
<path d="M52.3 138.4L52.6 196.1L52.6 138.4L52.9 138.4L52.9 255.3L53.2 294.8L53.2 138.4L53.5 138.4L53.5 294.8L53.8 294.8L53.8 138.4L54.1 138.4L54.1 294.8L54.4 294.8L54.4 138.4L54.7 138.4L54.7 294.8L55.1 294.8L55.1 138.4L55.4 138.4L55.4 294.8L55.7 294.8L55.7 138.4L56 138.4L56 294.8L56.3 294.8L56.3 138.4L56.6 138.4L56.6 294.8L56.9 250.6L56.9 106L57.2 94.7L57.2 206.5L57.5 175.6L57.5 94.7L57.8 94.7L57.8 171.2L58.2 166.8L58.2 94.7L58.5 94.7L58.5 162.4L58.8 162.4L58.8 111.6L59.1 117.2L59.1 162.4L59.4 162.4L59.4 128.5L59.7 138.4L59.7 162.4L60 162.4L60 138.4L60.3 138.4L60.3 162.4L60.6 162.4L60.6 138.4L61 138.4L61 162.4L61.3 162.4L61.3 138.4L61.6 138.4L61.6 162.4L61.9 162.4L61.9 138.4L62.2 138.4L62.2 162.4L62.5 162.4L62.5 138.4L62.8 138.4L62.8 162.4L63.1 162.4L63.1 138.4L63.4 138.4L63.4 162.4L63.8 162.4L63.8 138.4L64.1 138.4L64.1 162.4L64.4 162.4L64.4 128.5L64.7 117.2L64.7 162.4L65 162.4L65 111.3L65.3 93.6L65.3 162.4L65.6 162.4L65.6 93.6L65.9 93.6L65.9 162.4L66.2 162.4L66.2 93.6L66.5 105.4L66.5 162.4L66.9 162.4L66.9 117.2L67.2 117.2L67.2 165.9L67.5 171.3L67.5 117.2L67.8 117.2L67.8 173.1L68.1 173.1L68.1 124.2L68.4 126.5L68.4 173.1L68.7 173.1L68.7 126.5L69 121.9L69 173.1L69.3 173.1L69.3 117.2L69.7 117.2L69.7 173.1L70 161.7L70 101.3L70.3 96L70.3 150.3L70.6 150.1L70.6 96L70.9 96L70.9 149.8L71.2 149.5L71.2 102L71.5 119.8L71.5 149.3L71.8 149L71.8 119.8L72.1 119.8L72.1 148.7L72.4 148.5L72.4 123.2L72.8 131.7L72.8 148.2L73.1 147.9L73.1 131.7L73.4 131.7L73.4 147.7L73.7 147.4L73.7 131.7L74 131L74 147.1L74.3 146.8L74.3 127.6L74.6 126.5L74.6 146.5L74.9 146.2L74.9 126.5L75.2 126.5L75.2 145.9L75.6 145.6L75.6 120.5L75.9 118.5L75.9 145.3L76.2 145L76.2 118.5L76.5 118.5L76.5 144.7L76.8 144.4L76.8 120.7L77.1 127.4L77.1 144.1L77.4 143.7L77.4 131.9L77.7 132L77.7 145.1L78 145L78 132L78.4 132.1L78.4 145L78.7 145L78.7 132.2L79 132.3L79 144.9L79.3 144.9L79.3 132.3L79.6 132.4L79.6 144.8L79.9 144.8L79.9 132.5L80.2 132.5L80.2 144.7L80.5 144.7L80.5 132.6L80.8 132.7L80.8 144.7L81.1 144.6L81.1 132.8L81.5 132.8L81.5 144.6L81.8 144.5L81.8 132.9L82.1 133L82.1 144.5L82.4 144.4L82.4 133L82.7 133.1L82.7 144.4L83 144.4L83 133.2L83.3 131.8L83.3 144.3L83.6 144.3L83.6 131.8L83.9 131.9L83.9 144.2L84.3 144.2L84.3 132L84.6 132.1L84.6 144.1L84.9 144.1L84.9 132.1L85.2 132.2L85.2 144.1L85.5 144L85.5 132.3L85.8 132.3L85.8 144L86.1 143.9L86.1 132.4L86.4 132.5L86.4 143.9L86.7 143.8L86.7 132.6L87 132.6L87 143.8L87.4 143.8L87.4 132.7L87.7 132.8L87.7 143.7L88 143.7L88 132.8L88.3 132.9L88.3 143.6L88.6 143.6L88.6 133L88.9 133L88.9 143.5L89.2 143.5L89.2 133.1L89.5 133.2L89.5 143.5L89.8 143.4L89.8 133.3L90.2 133.3L90.2 143.4L90.5 143.3L90.5 133.4L90.8 133.5L90.8 143.3L91.1 143.2L91.1 133.5L91.4 133.6L91.4 143.2L91.7 143.2L91.7 133.7L92 133.7L92 142L93.1 142.6L93.1 132.8L94.1 134.5L94.1 141.3L95.1 142.6L95.1 133.6L96.2 134.3L96.2 142.4L97.2 141.7L97.2 134.7L98.2 134.8L98.2 142.2L99.3 141.5L99.3 134.8L100.3 135.1L100.3 140.4L101.3 140.7L101.3 135.2L102.4 135.9L102.4 140.7L103.4 140.4L103.4 136.1L104.4 136.6L104.4 140.3L105.5 140.3L105.5 135.9L106.5 136.8L106.5 140.2L107.6 140L107.6 136.1L108.6 135.8L108.6 141.2L109.6 141.9L109.6 135.1L110.7 135.6L110.7 141.6L111.7 142.7L111.7 135.3L112.7 133.9L112.7 141.7L113.8 142.4L113.8 134L114.8 135.5L114.8 141.3L115.8 141.6L115.8 135.3L116.9 135.4L116.9 140.8L117.9 140.8L117.9 135.9L118.9 136.7L118.9 140L120 139.9L120 136.8L121 136.6L121 140.4L122 139.2L122 137L123.1 137.5L123.1 139.4L124.1 139.4L124.1 137.3L125.2 137L125.2 139.1L126.2 139.1L126.2 137.2L127.2 136.8L127.2 139.5L128.3 139.5L128.3 137.1L129.3 136.8L129.3 139.6L130.3 139.4L130.3 136.7L131.4 137.3L131.4 139.5L132.4 139.8L132.4 136.7L133.4 136.6L133.4 139.9L134.5 139.4L134.5 136.7L135.5 137.1L135.5 139.5L136.5 139.5L136.5 136.7L137.6 137.2L137.6 140L138.6 139.9L138.6 137L139.7 136.6L139.7 139.8L140.7 139.2L140.7 137.4L141.7 137.4L141.7 139.4L142.8 139.2L142.8 137.5L143.8 137.5L143.8 139.4L144.8 139.3L144.8 137.2L145.9 137.4L145.9 139.2L146.9 139.1L146.9 137.4L147.9 137.3L147.9 139.5L149 139.1L149 137.5L150 137.2L150 139.1L151 139.2L151 137.5L152.1 137.2L152.1 139.2L153.1 139.3L153.1 137.1L154.1 137.4L154.1 139.9L155.2 142L155.2 134.6L156.2 134.1L156.2 142.9L157.3 143.1L157.3 134.6L158.3 137.1L158.3 139.7L159.3 140L159.3 136.7L160.4 136.5L160.4 140.2L161.4 140.1L161.4 136.7L162.4 136.2L162.4 140.1L163.5 139.7L163.5 136.7L164.5 136.7L164.5 139.8L165.5 139.7L165.5 137.5L166.6 137.5L166.6 139.2L167.6 139.4L167.6 137.1L168.6 137.3L168.6 139.1L169.7 139.4L169.7 137.5L170.7 137L170.7 139.1L171.8 139.2L171.8 137.3L172.8 137.1L172.8 139.2L173.8 139.1L173.8 137.1L174.9 137L174.9 139.4L175.9 139.2L175.9 137.2L176.9 137.1L176.9 139.3L178 139.2L178 137.4L179 137.4L179 139.1L180 139.1L180 137L181.1 137.3L181.1 139.1L182.1 139.2L182.1 137L183.1 137.2L183.1 139.1L184.2 139.2L184.2 137.2L185.2 137.5L185.2 139.1L186.3 139.3L186.3 137.1L187.3 137.3L187.3 139.1L188.3 139.4L188.3 137.3L189.4 137.4L189.4 139.1L190.4 139.2L190.4 137.5L191.4 137.1L191.4 139L192.5 139.3L192.5 137.3L193.5 137.6L193.5 139.1L194.5 139.2L194.5 137.3L195.6 135.7L195.6 140.8L196.6 140.2L196.6 135.4L197.6 134.9L197.6 140.6L198.7 140.3L198.7 135.7L199.7 134.8L199.7 140.9L200.7 140.8L200.7 135.3L201.8 136.2L201.8 140.2L202.8 141L202.8 134.8L203.9 135.2L203.9 140.1L204.9 141L204.9 134.7L205.9 135.9L205.9 140.6L207 140.5L207 136L208 134.8L208 140.8L209 140.8L209 135.1L210.1 136.1L210.1 141.1L211.1 140.3L211.1 135.1L212.1 135.1L212.1 140L213.2 141L213.2 134.8L214.2 135.1L214.2 141L215.2 140.8L215.2 136L216.3 136.2L216.3 140.6L217.3 140.8L217.3 136.1L218.4 136.1L218.4 140.9L219.4 140.4L219.4 135.8L220.4 134.9L220.4 140.9L221.5 139.2L221.5 137.4L222.5 137.4L222.5 139.2L223.5 139.1L223.5 137.3L224.6 137.6L224.6 139.2L225.6 138.9L225.6 137.6L226.6 137.4L226.6 139.2L227.7 139.2L227.7 137.3L228.7 137.5L228.7 139L229.7 139L229.7 137.7L230.8 137.4L230.8 139L231.8 139L231.8 137.6L232.8 137.4L232.8 139.2L233.9 139.1L233.9 137.6L234.9 137.3L234.9 139.2L236 139.4L236 137.1L237 130.4L237 142.4L238 143.1L238 132L239.1 132.3L239.1 142.4L240.1 142.7L240.1 132.1L241.1 136.4L241.1 140.3L242.2 140.7L242.2 136.3L243.2 136.2L243.2 140.3L244.2 140.3L244.2 135.5L245.3 135.7L245.3 140.6L246.3 140.2L246.3 136.4L247.3 136.3L247.3 140.4L248.4 140.1L248.4 135.4L249.4 136.1L249.4 140.2L250.5 140.2L250.5 136.7L251.5 136.9L251.5 139.7L252.5 139.7L252.5 136.8L253.6 137.4L253.6 139.3L254.6 139.2L254.6 137.4L255.6 137.4L255.6 138.9L256.7 139L256.7 137.5L257.7 137.7L257.7 139.1L258.7 139L258.7 137.6L259.8 137.6L259.8 139.1L260.8 139L260.8 137.5L261.8 137.8L261.8 139L262.9 139.1L262.9 137.8L263.9 137.8L263.9 138.9L264.9 139L264.9 137.6L266 137.6L266 139.1L267 139L267 137.6L268.1 137.7L268.1 138.9L269.1 139.1L269.1 137.5L270.1 137.6L270.1 138.9L271.2 139L271.2 137.7L272.2 137.7L272.2 139L273.2 139.1L273.2 137.6L274.3 137.6L274.3 139L275.3 139L275.3 137.8L276.3 137.9L276.3 138.8L277.4 139.1L277.4 137.8L278.4 137.7L278.4 138.8L279.4 138.9L279.4 137.8L280.5 137.6L280.5 139L281.5 138.8L281.5 137.9L282.6 137.8L282.6 139L283.6 139L283.6 137.6L284.6 137.8L284.6 138.9L285.7 138.9L285.7 137.7L286.7 137.7L286.7 139L287.7 138.9L287.7 137.6L288.8 137.8L288.8 138.8L289.8 139L289.8 137.9L290.8 137.7L290.8 139L291.9 138.9L291.9 137.7L292.9 137.6L292.9 139L293.9 138.9L293.9 137.6L295 137.9L295 138.9L296 138.9L296 137.9L297 137.8L297 138.9L298.1 138.8L298.1 137.7L299.1 137.7L299.1 139L300.2 138.8L300.2 137.8L301.2 137.7L301.2 138.8L302.2 138.8L302.2 137.8L303.3 137.9L303.3 138.8L304.3 138.9L304.3 137.8L305.3 137.8L305.3 138.9L306.4 138.9L306.4 137.8L307.4 137.7L307.4 138.8L308.4 138.9L308.4 137.7L309.5 137.9L309.5 138.9L310.5 138.9L310.5 137.7L311.5 138L311.5 138.8L312.6 138.9L312.6 138L313.6 138L313.6 138.8L314.7 138.8L314.7 137.9L315.7 138L315.7 138.8L316.7 138.8L316.7 137.8L317.8 137.8L317.8 138.8L318.8 138.8L318.8 138L319.8 138L319.8 138.9L320.9 138.8L320.9 137.9L321.9 138L321.9 138.9L322.9 138.8L322.9 137.8L324 137.9L324 138.8L325 138.9L325 137.8L326 137.9L326 138.8L327.1 138.8L327.1 137.8L328.1 137.8L328.1 138.9L329.1 138.8L329.1 137.8L330.2 137.9L330.2 138.8L331.2 138.8L331.2 137.9L332.3 137.8L332.3 138.8L333.3 138.8L333.3 138L334.3 137.9L334.3 138.9L335.4 138.8L335.4 137.9L336.4 138L336.4 138.8L337.4 138.8L337.4 137.9L338.5 137.9L338.5 138.9L339.5 138.9L339.5 137.8L340.5 138L340.5 138.7L341.6 138.8L341.6 137.8L342.6 137.9L342.6 138.9L343.6 138.8L343.6 138L344.7 137.8L344.7 138.9L345.7 138.8L345.7 137.9L346.8 138L346.8 138.8L347.8 138.8L347.8 137.9L348.8 137.9L348.8 138.8L349.9 138.7L349.9 137.8L350.9 138L350.9 138.8L351.9 138.9L351.9 137.8L353 137.9L353 138.8L354 138.9L354 137.8L355 137.9L355 138.7L356.1 138.8L356.1 137.8L357.1 137.9L357.1 138.7L358.1 138.8L358.1 137.9L359.2 138L359.2 138.8L360.2 138.8L360.2 137.9L361.2 136.6L361.2 139.6L362.3 139.8L362.3 136.5L363.3 136.6L363.3 139.5L364.4 139.7L364.4 136.7L365.4 136.5L365.4 139.6L366.4 139.6L366.4 137L367.5 136.7L367.5 139.4L368.5 139.8L368.5 136.9L369.5 136.9L369.5 139.9L370.6 139.8L370.6 136.9L371.6 136.9L371.6 139.8L372.6 138.7L372.6 138L373.7 137.9L373.7 138.7L374.7 138.8L374.7 137.9L375.7 137.8L375.7 138.9L376.8 138.7L376.8 137.9L377.8 138L377.8 138.8L378.9 138.8L378.9 137.9L379.9 137.9L379.9 138.8L380.9 138.7L380.9 137.8L382 137.8L382 138.8L383 138.8L383 137.8L384 137.9L384 138.9L385.1 138.9L385.1 138L386.1 138L386.1 138.8L387.1 138.8L387.1 137.8L388.2 137.9L388.2 138.7L389.2 138.8L389.2 137.8L390.2 137.9L390.2 138.8L391.3 138.9L391.3 137.8L392.3 137.9L392.3 138.8L393.4 138.8L393.4 137.8L394.4 137.9L394.4 138.7L395.4 138.8L395.4 137.9L396.5 137.9L396.5 138.9L397.5 138.9L397.5 138L398.5 137.9L398.5 138.8L399.6 138.8L399.6 138L400.6 137.6L400.6 139.1L401.6 139.4L401.6 137.6L402.7 137L402.7 139.6L403.7 143.8L403.7 131.6L404.7 132.1L404.7 144.3L405.8 145L405.8 132.5L406.8 134.6L406.8 143.3L407.8 140.4L407.8 136.1L408.9 136.2L408.9 140.8L409.9 140L409.9 136.4L411 135.9L411 140.9L412 140L412 136.2L413 135.5L413 140.1L414.1 140.4L414.1 135.5L415.1 136.4L415.1 139.9L416.1 140.2L416.1 136.8L417.2 136.9L417.2 139.6L418.2 139.6L418.2 136.8L419.2 136.9L419.2 139.3L420.3 139.5L420.3 137.5L421.3 137.6L421.3 139.2L422.3 139L422.3 137.6L423.4 137.9L423.4 138.7L424.4 138.8L424.4 137.9L425.5 138L425.5 138.8L426.5 138.9L426.5 138L427.5 137.9L427.5 138.8L428.6 138.8L428.6 137.9L429.6 138L429.6 138.7L430.6 138.8L430.6 137.9L431.7 137.9L431.7 138.8L432.7 138.8L432.7 137.9L433.7 138L433.7 138.8L434.8 138.8L434.8 137.8L435.8 138L435.8 138.8L436.8 138.9L436.8 137.9L437.9 137.8L437.9 138.8L438.9 138.9L438.9 138L439.9 138L439.9 138.8L441 138.9L441 137.8L442 137.8L442 138.8L443.1 138.8L443.1 137.9L444.1 137.8L444.1 138.9L445.1 138.7L445.1 137.8L446.2 137.8L446.2 138.9L447.2 138.8L447.2 137.8L448.2 138L448.2 138.8L449.3 138.9L449.3 137.9L450.3 137.8L450.3 138.7L451.3 138.8L451.3 137.9L452.4 137.8L452.4 138.7L453.4 138.8L453.4 138L454.4 137.8L454.4 138.7L455.5 138.8L455.5 137.8L456.5 138L456.5 138.9L457.6 138.9L457.6 138L458.6 137.9L458.6 138.8L459.6 138.8L459.6 137.9L460.7 137.8L460.7 138.9L461.7 138.8L461.7 137.9L462.7 137.8L462.7 138.8L463.8 138.7L463.8 137.8L464.8 138L464.8 138.8L465.8 138.7L465.8 138L466.9 137.8L466.9 138.8L467.9 138.8L467.9 137.9L468.9 137.8L468.9 138.8L470 138.9L470 137.9L471 137.8L471 138.8L472 138.8L472 137.9L473.1 137.9L473.1 138.8L474.1 138.7L474.1 138L475.2 137.9L475.2 138.8L476.2 138.7L476.2 138L477.2 138L477.2 138.8L478.3 138.8L478.3 137.8L479.3 138L479.3 138.9L480.3 138.7L480.3 137.9L481.4 137.8L481.4 138.8L482.4 138.8L482.4 137.9L483.4 137.9L483.4 138.9L484.5 138.7L484.5 138L485.5 137.9L485.5 138.7L486.5 138.8L486.5 137.9L487.6 137.8L487.6 138.9L488.6 138.7L488.6 138L489.7 138L489.7 138.9L490.7 138.8L490.7 138L491.7 137.8L491.7 138.8L492.8 138.7L492.8 137.9L493.8 138L493.8 138.8L494.8 138.8L494.8 137.9L495.9 138L495.9 138.8L496.9 138.7L496.9 137.8L497.9 138L497.9 138.7L499 138.7L499 138L500 137.9L500 138.7L501 138.8L501 137.8L502.1 137.9L502.1 138.8L503.1 138.8L503.1 137.8L504.1 137.9L504.1 138.8L505.2 138.9L505.2 137.9L506.2 137.8L506.2 138.9L507.3 138.8L507.3 137.8L508.3 138L508.3 138.9L509.3 138.7L509.3 137.8L510.4 137.9L510.4 138.7L511.4 138.8L511.4 137.8L512.4 138L512.4 138.8L513.5 138.9L513.5 138L514.5 138L514.5 138.8L515.5 138.8L515.5 137.9L516.6 138L516.6 138.9L517.6 138.8L517.6 137.9L518.6 137.8L518.6 138.9L519.7 138.8L519.7 137.9L520.7 137.8L520.7 138.8L521.8 138.8L521.8 137.9L522.8 137.8L522.8 138.8L523.8 138.8L523.8 137.9L524.9 137.8L524.9 138.8L525.9 138.7L525.9 137.9L526.9 138L526.9 138.7L528 138.9L528 138L529 138L529 138.8L530 138.8L530 138L531.1 137.9L531.1 138.8L532.1 138.8L532.1 138L533.1 138L533.1 138.7L534.2 138.9L534.2 137.8L535.2 137.9L535.2 138.9L536.2 138.9L536.2 137.8L537.3 137.9L537.3 138.8L538.3 138.8L538.3 137.9L539.4 137.9L539.4 138.8L540.4 138.8L540.4 137.9L541.4 137.8L541.4 138.9L542.5 138.8L542.5 137.9L543.5 137.8L543.5 138.8L544.5 138.8L544.5 138L545.6 137.8L545.6 138.9L546.6 138.8L546.6 138L547.6 137.9L547.6 138.9L548.7 138.9L548.7 138L549.7 137.9L549.7 138.9L550.7 138.8L550.7 138L551.8 137.8L551.8 138.8L552.8 138.7L552.8 137.8L553.9 137.8L553.9 138.8L554.9 138.7L554.9 137.8L555.9 138L555.9 138.8L557 138.8L557 138L558 138L558 138.8L559 138.9L559 137.9L560.1 137.8L560.1 138.8L561.1 138.7L561.1 137.8L562.1 137.8L562.1 138.7L563.2 138.7L563.2 137.8L564.2 137.8L564.2 138.8L565.2 138.7L565.2 137.9L566.3 138L566.3 138.8L567.3 138.8L567.3 138L568.4 138L568.4 138.8L569.4 138.8L569.4 137.8L570.4 138L570.4 138.9L571.5 138.8L571.5 138L572.5 137.8L572.5 138.7L573.5 138.9L573.5 138L574.6 137.8L574.6 138.8L575.6 138.9L575.6 138L576.6 137.9L576.6 138.9L577.7 138.7L577.7 138L578.7 137.8L578.7 138.8L579.7 138.7L579.7 137.9L580.8 137.8L580.8 139L581.8 139.4L581.8 137.6L582.8 137.1L582.8 139.3L583.9 139.7L583.9 137.4L584.9 136.8L584.9 139.7L586 140.4L586 136.4L587 136.9L587 140.7L588 141.4L588 132.9L589.1 130.3L589.1 144L590.1 143.3L590.1 128L591.1 129.3L591.1 145.3L592.2 141.6L592.2 134.9L593.2 135.3L593.2 141.2L594.2 141.6L594.2 135L595.3 135.5L595.3 140.8L596.3 141.6L596.3 136L597.3 135L597.3 141L598.4 140.7L598.4 135.4L599.4 135.1L599.4 141.7L600.5 141.4L600.5 134.4L601.5 135.3L601.5 140.4L602.5 141.2L602.5 135.9L603.6 135.9L603.6 140.8L604.6 140.5L604.6 135.4L605.6 135.7L605.6 140.4L606.7 139.8L606.7 136.1L607.7 136.3L607.7 139.9L608.7 139.8L608.7 137.2L609.8 137.5L609.8 139.2L610.8 139.1L610.8 137.6L611.8 137.8L611.8 139.1L612.9 138.9L612.9 138L613.9 137.9L613.9 138.8L614.9 138.8L614.9 137.9L616 137.8L616 138.8L617 138.9L617 138L618.1 137.9L618.1 138.8L619.1 138.7L619.1 138L620.1 137.9L620.1 138.9L621.2 138.7L621.2 137.9L622.2 138L622.2 138.9L623.2 138.9L623.2 138L624.3 137.9L624.3 138.8L625.3 138.8L625.3 137.9L626.3 137.9L626.3 138.8L627.4 139.1L627.4 137.9L628.4 137.5L628.4 139.6L629.4 139.5L629.4 136.9L630.5 129.8L630.5 147.4L631.5 146.2L631.5 130.6L632.6 129.2L632.6 144.5L633.6 142.4L633.6 132.5L634.6 134.6L634.6 141.8L635.7 141.3L635.7 135.6L636.7 135.5L636.7 141.1L637.7 141.2L637.7 135.5L638.8 134.8L638.8 142.3L639.8 141.9L639.8 134.9L640.8 133.8L640.8 142.5L641.9 141.5L641.9 135.3L642.9 133.7L642.9 142L643.9 141.8L643.9 134.3L645 134.5L645 141.6L646 140.6L646 135.1L647 135.3L647 141.3L648.1 141.3L648.1 135.9L649.1 136.7L649.1 140.5L650.2 140L650.2 136.5L651.2 136.6L651.2 140.2L652.2 139.5L652.2 136.7L653.3 137.1L653.3 139.5L654.3 139.5L654.3 137.4L655.3 137.8L655.3 139.2L656.4 139L656.4 138L657.4 137.8L657.4 138.8L658.4 138.9L658.4 138L659.5 137.8L659.5 138.9L660.5 138.8L660.5 138L661.5 137.9L661.5 138.7L662.6 138.8L662.6 137.9L663.6 137.8L663.6 138.8L664.7 138.7L664.7 137.9L665.7 138L665.7 138.8L666.7 138.7L666.7 138L667.8 137.9L667.8 138.7L668.8 138.9L668.8 137.9L669.8 137.8L669.8 138.7L670.9 138.8L670.9 138L671.9 138L671.9 138.7" stroke="#EDB120"/>
<path d="M50.6 138.4L52.3 138.4L53.1 145.1L54.1 142.4L55.4 140.8L56.4 140.1L58.5 139.7L88.5 138.4L109.6 138.1L238 137.6L671.9 137.7" stroke="#00FFFF"/>
<path d="M50.6 138.4L52.3 138.4L53.1 150.5L54.1 143.8L55.8 141.8L58.7 140.4L61.6 139.8L67.4 139.3L90.2 138.1L91.4 137.8L111.9 137.8L112.1 138.2L112.5 137.8L116.5 137.8L236.4 137.6L236.8 136.9L237.6 137.5L254 137.6L588.6 137.7L589.1 136.8L589.9 137.4L590.5 137.5L629.4 137.7L630.1 138.6L631.1 137.8L671.9 137.7" stroke="#FF00FF"/>
<path d="M50.6 138.4L52.3 138.4L53.1 146.5L53.9 142.4L54.9 140.5L56 139.8L81 138.8L113.4 138.1L236.4 137.7L236.8 137.2L237.4 137.6L402.5 137.7L403.1 138L407 137.7L444.7 137.6L588.6 137.7L589.1 137.1L589.9 137.6L628.4 137.7L630.1 138L671.9 137.7" stroke="#FFFF00"/>
<path d="M50.6 138.4L51.4 138.4L52.3 140.4L53.7 139.2L56.6 138.9L99.1 138.6L671.9 138.3" stroke="#00FF00"/>
<path d="M50.6 138.4L52.3 138.4L52.5 140.3L52.7 134.4L52.7 142.4L52.9 139.7L53.7 139.2L55.6 139L112.1 138.6L112.1 138.4L112.1 138.7L237 138.2L237 138.6L403.1 138.4L403.1 138L403.1 138.5L589.1 138.2L589.1 138.6L630.1 138.4L630.1 138L630.1 138.5L671.9 138.4" stroke="#FF0000"/>
<path d="M50.6 138.4L51.5 138.4L51.8 140.5L52.2 138.4L52.5 140.5L52.8 138.4L53.1 140.5L53.4 138.5L53.7 140.1L54 138.6L54.3 139.8L54.6 138.6L54.9 139.6L55.4 138.7L55.8 139.4L56.2 138.8L56.6 139.3L57 138.8L57.5 139.1L58.1 138.8L58.7 139L59.3 138.8L153.1 138.5L671.9 138.4" stroke="#0000FF"/>
</g>
<rect x="94.2" y="147.6" width="371.4" height="240.2" fill="#fff"/>
<path d="M156.1 147.6V387.8" stroke="#e1e1e1" stroke-width="1" fill="none"/>
<path d="M218 147.6V387.8" stroke="#e1e1e1" stroke-width="1" fill="none"/>
<path d="M279.9 147.6V387.8" stroke="#e1e1e1" stroke-width="1" fill="none"/>
<path d="M341.8 147.6V387.8" stroke="#e1e1e1" stroke-width="1" fill="none"/>
<path d="M403.7 147.6V387.8" stroke="#e1e1e1" stroke-width="1" fill="none"/>
<path d="M94.2 327.8H465.6" stroke="#e1e1e1" stroke-width="1" fill="none"/>
<path d="M94.2 267.7H465.6" stroke="#e1e1e1" stroke-width="1" fill="none"/>
<path d="M94.2 207.7H465.6" stroke="#e1e1e1" stroke-width="1" fill="none"/>
<g clip-path="url(#cia)" fill="none" stroke-width="2.5" stroke-linejoin="round" stroke-linecap="round">
<path d="M94.2 267.7L95.2 267.7L95.4 417.8L95.6 423.8L96.4 423.8L97.2 365.2L97.7 342.8L98.3 332.1L99 324L100.1 316.5L101.4 310.9L104.2 301.6L107.8 292.4L116 269.6L117.2 266.6L118.3 264.5L119.7 262.6L121.2 261L131.6 251.6L137.5 246.9L144.8 242.2L146.7 241.4L148.7 240.9L156 239.5L165.9 237L171 236.1L189.6 233.8L204.4 232.9L204.9 232.4L205.9 230.7L206.2 230.5L224.4 232.4L242.6 233.6L259.2 234.2L297.9 235L304.4 235.3L304.7 235.5L305.3 237.7L306.8 237.2L310.1 235L312 234.4L317.9 233.4L330 232.2L339.2 231.7L369.4 231.8L374.4 232.2L378.7 232.9L378.9 238.9L379.2 232.9L403.9 235.4L410 235.8L415.8 235.9L416.2 235L416.9 231.3L417.3 230.5L418.6 230.6L423 231.8L434.7 232.6L439.6 233.5L440.1 234.2L441.1 236.7L441.5 237.1L443.1 236.9L446.8 235.9L453.8 234.9L460.2 234.3L465.6 234.1" stroke="#00FFFF"/>
<path d="M94.2 267.7L95.2 267.7L95.4 423.8L97.2 423.8L98 387.8L99 358.2L99.9 341.3L101.3 326.4L102.4 318L104.7 303.6L106.5 294.5L109.1 282.4L111.8 271.2L114.6 260.7L115.6 257.7L117.2 255.3L118 252.7L118.5 249.7L118.6 240.7L119.2 245.7L119.3 246.1L119.6 246.1L120.7 245.4L123 242.6L123.9 241.9L128.1 239.3L129.6 238.8L130.8 238.6L131 255.7L131.2 238.6L132.3 237.8L133.6 237.2L145.2 234.9L156 234.7L156.1 242.5L156.3 234.7L158.8 234.1L161.7 233.8L176.9 233.2L180.6 232.9L181.5 228.7L182.2 229.2L183.7 231.6L184.5 232.3L198.3 232.2L205.2 231.9L205.5 199.2L206 226.9L207 228.6L208.1 229.5L211.7 230.5L215.8 231.4L225.2 232.5L244.2 233.7L258 234.2L283.4 234.7L291.8 235.3L304.5 235.3L305 238.9L305.8 238.7L306.6 238.1L310.2 234.4L313.7 233.2L317.5 232.4L322.1 231.8L331.3 230.9L337.7 230.5L360.7 230.5L365.7 230.7L388 233.2L404.6 235.4L410.3 235.8L415.8 235.9L416.1 194.4L416.6 223.4L416.7 226.9L416.9 227.3L417.8 228.4L418.7 229.2L420.8 230.1L425.6 231L435.6 231.7L438 232.2L440.2 232.9L440.6 274.9L441.2 238.3L442.6 237.1L444.2 236.4L448.8 235.5L454.3 234.8L456.9 234.1L457.7 233.2L459.3 229.9L459.9 229.3L460.4 229.5L461.9 231.7L463.9 232.6L465.6 232.9" stroke="#FF00FF"/>
<path d="M94.2 267.7L95.2 267.7L95.4 423.8L96.3 423.8L97 339.7L97.3 330.8L97.8 326.1L98.8 320.9L100.9 313.6L102.9 307.7L111.3 286.7L114.5 279.8L122.7 265.6L124.5 263L127.7 259.4L129.5 257.9L130.8 257.5L131 262.9L131.1 254.5L132.2 253.2L133.4 252.4L138.5 251L145.6 246.9L151.8 243.7L154 242.8L156 242.5L156.1 255.1L156.3 242.5L157.7 241.5L159.2 240.7L162.3 239.7L167.5 239.1L174.8 237.6L187.8 235.4L194 234.6L201.8 234.1L205.2 233.5L205.5 213.7L205.9 230.5L207.4 230.8L225.4 232.5L242.8 233.6L259.2 234.2L297.9 235L304.5 235.3L304.9 246.1L305.2 237.7L306.1 236.5L307.3 235.6L308.9 235.1L315.7 233.7L329.8 232.2L339 231.7L364.7 231.8L387.5 233.7L405.1 235.5L410.5 235.8L415.8 235.9L416.1 210.1L416.6 229.9L418.2 230.9L420 231.4L425.4 232L434.9 232.6L439.6 233.5L440.6 246.1L441.1 237.1L441.5 236.9L444.1 236.2L454.1 234.9L458.7 234.7L458.9 245.5L459.2 234.7L461.9 234.2L465.6 234.1" stroke="#FFFF00"/>
<path d="M94.2 267.7L94.7 267.7L95.2 356.6L95.7 315.7L96.1 302.8L96.8 295.1L97.8 290.5L98.7 288.8L99.8 287.5L102.5 285.2L105.6 283.2L109.3 281.4L113.4 279.8L118.1 278.2L123.2 276.7L131 275L131 279.1L131.1 275L137.2 273.8L153.6 271L163.7 269.8L178.9 268.5L198.8 267.3L230.4 266.6L307.8 266.2L357.8 265.3L420.2 265.3L441.5 265.1L441.6 262.7L465.6 262.3" stroke="#00FF00"/>
<path d="M94.2 267.7L95.2 267.7L95.3 351.2L95.4 111.6L95.4 423.8L95.4 338.9L95.7 315.7L96.2 300.7L96.7 296L97.3 292.3L99.2 284.5L101.1 283L103.1 281.9L105.3 281L111.5 280.5L118.6 278.5L118.6 281.5L118.7 278.4L131 275.8L131 265.3L131 278.5L131.1 275.8L156.1 271.4L156.1 265.9L156.2 271.4L167.4 270.2L178.8 269.1L193.7 268.1L205.6 267.7L205.6 258.7L205.6 273.1L205.7 267.6L239.7 267.1L304.9 266.6L304.9 246.1L304.9 270.7L305 266.6L358.8 265.7L416.1 265.6L416.1 256.9L416.1 273.1L416.2 265.6L440.6 265.3L440.6 246.1L440.6 269.5L440.7 265.3L465.6 264.9" stroke="#FF0000"/>
<path d="M94.2 267.7L94.8 265.9L94.9 358.4L95.1 264.1L95.3 358.4L95.5 267.7L95.7 358.4L95.9 270.7L96.1 342.8L96.2 273.7L96.4 330.8L96.6 276.7L96.8 321.7L97 279.7L97.3 312.7L97.5 282.1L97.8 304.9L98 283.3L98.3 298.9L98.7 283.9L99 293.5L99.4 283.9L99.8 289.3L100.1 283.9L100.4 286.9L103.6 284.4L107.8 282.1L113.3 279.8L119.5 277.8L125.5 276.2L132.9 274.6L155.5 270.8L168 269.4L180.9 268.3L197.4 267.3L211.8 266.9L242.3 266.5L308.7 266.2L358.9 265.3L416.1 265.3L416.1 258.1L416.1 270.1L416.2 265.3L465.6 264.7" stroke="#0000FF"/>
</g>
<path d="M156.1 387.8v-4M156.1 147.6v4M218 387.8v-4M218 147.6v4M279.9 387.8v-4M279.9 147.6v4M341.8 387.8v-4M341.8 147.6v4M403.7 387.8v-4M403.7 147.6v4M94.2 327.8h4M465.6 327.8h-4M94.2 267.7h4M465.6 267.7h-4M94.2 207.7h4M465.6 207.7h-4" stroke="#7d7d7d" stroke-width="1.1" fill="none"/>
<rect x="94.2" y="147.6" width="371.4" height="240.2" stroke="#7d7d7d" stroke-width="1.1" fill="none"/>
<rect x="473" y="217" width="199.8" height="188" fill="#fff" stroke="#222" stroke-width="1.3"/>
<path d="M478.5 228.3H527.5" stroke="#7E2F8E" stroke-width="3.2" fill="none"/>
<text x="532.4" y="232.9" font-size="13" text-anchor="start" font-weight="bold" fill="#1c1c1c" font-family="'Liberation Sans', Arial, Helvetica, sans-serif" stroke="#1c1c1c" stroke-width="0.25">PID-PSO</text>
<path d="M478.5 246H527.5" stroke="#77AC30" stroke-width="3.2" fill="none"/>
<text x="532.4" y="250.9" font-size="13" text-anchor="start" font-weight="bold" fill="#1c1c1c" font-family="'Liberation Sans', Arial, Helvetica, sans-serif" stroke="#1c1c1c" stroke-width="0.25">PID-GTO</text>
<path d="M478.5 264.4H527.5" stroke="#EDB120" stroke-width="3.2" fill="none"/>
<text x="532.4" y="269.3" font-size="13" text-anchor="start" font-weight="bold" fill="#1c1c1c" font-family="'Liberation Sans', Arial, Helvetica, sans-serif" stroke="#1c1c1c" stroke-width="0.25">PID-MPA</text>
<path d="M478.5 284.8H527.5" stroke="#00FFFF" stroke-width="3.2" fill="none"/>
<text x="532.4" y="291" font-size="13" text-anchor="start" font-weight="bold" fill="#1c1c1c" font-family="'Liberation Sans', Arial, Helvetica, sans-serif" stroke="#1c1c1c" stroke-width="0.25">PIDD<tspan dx="0.8" dy="-4.8" font-size="10.2">2</tspan><tspan dx="1.3" dy="4.8">-PSO</tspan></text>
<path d="M478.5 306.4H527.5" stroke="#FF00FF" stroke-width="3.2" fill="none"/>
<text x="532.4" y="312.7" font-size="13" text-anchor="start" font-weight="bold" fill="#1c1c1c" font-family="'Liberation Sans', Arial, Helvetica, sans-serif" stroke="#1c1c1c" stroke-width="0.25">PIDD<tspan dx="0.8" dy="-4.8" font-size="10.2">2</tspan><tspan dx="1.3" dy="4.8">-GTO</tspan></text>
<path d="M478.5 328.1H527.5" stroke="#FFFF00" stroke-width="3.2" fill="none"/>
<text x="532.4" y="334.7" font-size="13" text-anchor="start" font-weight="bold" fill="#1c1c1c" font-family="'Liberation Sans', Arial, Helvetica, sans-serif" stroke="#1c1c1c" stroke-width="0.25">PIDD<tspan dx="0.8" dy="-4.8" font-size="10.2">2</tspan><tspan dx="1.3" dy="4.8">-MPA</tspan></text>
<path d="M478.5 349.8H527.5" stroke="#00FF00" stroke-width="3.2" fill="none"/>
<text x="532.4" y="357" font-size="13" text-anchor="start" font-weight="bold" fill="#1c1c1c" font-family="'Liberation Sans', Arial, Helvetica, sans-serif" stroke="#1c1c1c" stroke-width="0.25">(FPIDD<tspan dx="0.8" dy="-4.8" font-size="10.2">2</tspan><tspan dx="1.3" dy="4.8">+PIDD</tspan><tspan dx="0.8" dy="-4.8" font-size="10.2">2</tspan><tspan dx="1.3" dy="4.8">)-PSO</tspan></text>
<path d="M478.5 371.5H527.5" stroke="#FF0000" stroke-width="3.2" fill="none"/>
<text x="532.4" y="378.4" font-size="13" text-anchor="start" font-weight="bold" fill="#1c1c1c" font-family="'Liberation Sans', Arial, Helvetica, sans-serif" stroke="#1c1c1c" stroke-width="0.25">(FPIDD<tspan dx="0.8" dy="-4.8" font-size="10.2">2</tspan><tspan dx="1.3" dy="4.8">+PIDD</tspan><tspan dx="0.8" dy="-4.8" font-size="10.2">2</tspan><tspan dx="1.3" dy="4.8">)-GTO</tspan></text>
<path d="M478.5 393.5H527.5" stroke="#0000FF" stroke-width="3.2" fill="none"/>
<text x="532.4" y="400.4" font-size="13" text-anchor="start" font-weight="bold" fill="#1c1c1c" font-family="'Liberation Sans', Arial, Helvetica, sans-serif" stroke="#1c1c1c" stroke-width="0.25">(FPIDD<tspan dx="0.8" dy="-4.8" font-size="10.2">2</tspan><tspan dx="1.3" dy="4.8">+PIDD</tspan><tspan dx="0.8" dy="-4.8" font-size="10.2">2</tspan><tspan dx="1.3" dy="4.8">)-MPA</tspan></text>
<text x="88.5" y="393.1" font-size="14.6" text-anchor="end" font-weight="bold" fill="#2b2b2b" font-family="'Liberation Sans', Arial, Helvetica, sans-serif" stroke="#2b2b2b" stroke-width="0.25">-0.02</text>
<text x="88.5" y="333.1" font-size="14.6" text-anchor="end" font-weight="bold" fill="#2b2b2b" font-family="'Liberation Sans', Arial, Helvetica, sans-serif" stroke="#2b2b2b" stroke-width="0.25">-0.01</text>
<text x="88.5" y="273" font-size="14.6" text-anchor="end" font-weight="bold" fill="#2b2b2b" font-family="'Liberation Sans', Arial, Helvetica, sans-serif" stroke="#2b2b2b" stroke-width="0.25">0</text>
<text x="88.5" y="213" font-size="14.6" text-anchor="end" font-weight="bold" fill="#2b2b2b" font-family="'Liberation Sans', Arial, Helvetica, sans-serif" stroke="#2b2b2b" stroke-width="0.25">0.01</text>
<text x="88.5" y="152.9" font-size="14.6" text-anchor="end" font-weight="bold" fill="#2b2b2b" font-family="'Liberation Sans', Arial, Helvetica, sans-serif" stroke="#2b2b2b" stroke-width="0.25">0.02</text>
<text x="94.2" y="408.8" font-size="14.6" text-anchor="middle" font-weight="bold" fill="#2b2b2b" font-family="'Liberation Sans', Arial, Helvetica, sans-serif" stroke="#2b2b2b" stroke-width="0.25">0</text>
<text x="156.1" y="408.8" font-size="14.6" text-anchor="middle" font-weight="bold" fill="#2b2b2b" font-family="'Liberation Sans', Arial, Helvetica, sans-serif" stroke="#2b2b2b" stroke-width="0.25">50</text>
<text x="218" y="408.8" font-size="14.6" text-anchor="middle" font-weight="bold" fill="#2b2b2b" font-family="'Liberation Sans', Arial, Helvetica, sans-serif" stroke="#2b2b2b" stroke-width="0.25">100</text>
<text x="279.9" y="408.8" font-size="14.6" text-anchor="middle" font-weight="bold" fill="#2b2b2b" font-family="'Liberation Sans', Arial, Helvetica, sans-serif" stroke="#2b2b2b" stroke-width="0.25">150</text>
<text x="341.8" y="408.8" font-size="14.6" text-anchor="middle" font-weight="bold" fill="#2b2b2b" font-family="'Liberation Sans', Arial, Helvetica, sans-serif" stroke="#2b2b2b" stroke-width="0.25">200</text>
<text x="403.7" y="408.8" font-size="14.6" text-anchor="middle" font-weight="bold" fill="#2b2b2b" font-family="'Liberation Sans', Arial, Helvetica, sans-serif" stroke="#2b2b2b" stroke-width="0.25">250</text>
<text x="465.6" y="408.8" font-size="14.6" text-anchor="middle" font-weight="bold" fill="#2b2b2b" font-family="'Liberation Sans', Arial, Helvetica, sans-serif" stroke="#2b2b2b" stroke-width="0.25">300</text>
<g filter="url(#sh)">
<ellipse cx="62.5" cy="135" rx="22.5" ry="24.6" fill="none" stroke="#000" stroke-width="1.6"/>
<path d="M65.8 158.8L93 184.7" stroke="#000" stroke-width="1.7" fill="none"/>
<path d="M99 190.4L94.7 179.4L87.7 186.4Z" fill="#000"/>
</g>
<text x="361" y="441.6" font-size="15" text-anchor="middle" font-weight="bold" fill="#2b2b2b" font-family="'Liberation Sans', Arial, Helvetica, sans-serif" stroke="#2b2b2b" stroke-width="0.25" textLength="109.5" lengthAdjust="spacingAndGlyphs">Time (Seconds)</text>
<text transform="translate(14.3 205.3) rotate(-90)" font-size="15.6" textLength="57.5" lengthAdjust="spacingAndGlyphs" text-anchor="middle" font-weight="bold" fill="#2b2b2b" font-family="'Liberation Sans', Arial, Helvetica, sans-serif">Δf<tspan dy="4.5" font-size="11.5">1</tspan><tspan dy="-4.5"> (Hz)</tspan></text>
<text x="350.2" y="478" font-size="18.8" text-anchor="middle" font-weight="normal" fill="#111" font-family="'Liberation Serif', 'Times New Roman', Times, serif">(a)</text>
<clipPath id="cob"><rect x="48.6" y="523.1" width="627.4" height="404.7"/></clipPath>
<clipPath id="cib"><rect x="102.2" y="670.6" width="371.4" height="239.7"/></clipPath>
<path d="M153 523.1V927.8" stroke="#e1e1e1" stroke-width="1" fill="none"/>
<path d="M257.3 523.1V927.8" stroke="#e1e1e1" stroke-width="1" fill="none"/>
<path d="M361.6 523.1V927.8" stroke="#e1e1e1" stroke-width="1" fill="none"/>
<path d="M465.9 523.1V927.8" stroke="#e1e1e1" stroke-width="1" fill="none"/>
<path d="M570.2 523.1V927.8" stroke="#e1e1e1" stroke-width="1" fill="none"/>
<path d="M48.6 860.3H674.5" stroke="#e1e1e1" stroke-width="1" fill="none"/>
<path d="M48.6 792.9H674.5" stroke="#e1e1e1" stroke-width="1" fill="none"/>
<path d="M48.6 725.5H674.5" stroke="#e1e1e1" stroke-width="1" fill="none"/>
<path d="M48.6 658H674.5" stroke="#e1e1e1" stroke-width="1" fill="none"/>
<path d="M48.6 590.5H674.5" stroke="#e1e1e1" stroke-width="1" fill="none"/>
<path d="M153 927.8v-6M153 523.1v6M257.3 927.8v-6M257.3 523.1v6M361.6 927.8v-6M361.6 523.1v6M465.9 927.8v-6M465.9 523.1v6M570.2 927.8v-6M570.2 523.1v6M48.6 860.3h6M674.5 860.3h-6M48.6 792.9h6M674.5 792.9h-6M48.6 725.5h6M674.5 725.5h-6M48.6 658h6M674.5 658h-6M48.6 590.5h6M674.5 590.5h-6" stroke="#3c3c3c" stroke-width="1.2" fill="none"/>
<rect x="48.6" y="523.1" width="625.9" height="404.7" stroke="#3c3c3c" stroke-width="1.2" fill="none"/>
<text x="45.4" y="932.4" font-size="13" text-anchor="end" font-weight="bold" fill="#2b2b2b" font-family="'Liberation Sans', Arial, Helvetica, sans-serif" stroke="#2b2b2b" stroke-width="0.25">-2</text>
<text x="45.4" y="864.9" font-size="13" text-anchor="end" font-weight="bold" fill="#2b2b2b" font-family="'Liberation Sans', Arial, Helvetica, sans-serif" stroke="#2b2b2b" stroke-width="0.25">-1.5</text>
<text x="45.4" y="797.5" font-size="13" text-anchor="end" font-weight="bold" fill="#2b2b2b" font-family="'Liberation Sans', Arial, Helvetica, sans-serif" stroke="#2b2b2b" stroke-width="0.25">-1</text>
<text x="45.4" y="730.1" font-size="13" text-anchor="end" font-weight="bold" fill="#2b2b2b" font-family="'Liberation Sans', Arial, Helvetica, sans-serif" stroke="#2b2b2b" stroke-width="0.25">-0.5</text>
<text x="45.4" y="662.6" font-size="13" text-anchor="end" font-weight="bold" fill="#2b2b2b" font-family="'Liberation Sans', Arial, Helvetica, sans-serif" stroke="#2b2b2b" stroke-width="0.25">0</text>
<text x="45.4" y="595.1" font-size="13" text-anchor="end" font-weight="bold" fill="#2b2b2b" font-family="'Liberation Sans', Arial, Helvetica, sans-serif" stroke="#2b2b2b" stroke-width="0.25">0.5</text>
<text x="45.4" y="527.7" font-size="13" text-anchor="end" font-weight="bold" fill="#2b2b2b" font-family="'Liberation Sans', Arial, Helvetica, sans-serif" stroke="#2b2b2b" stroke-width="0.25">1</text>
<text x="48.6" y="944" font-size="13" text-anchor="middle" font-weight="bold" fill="#2b2b2b" font-family="'Liberation Sans', Arial, Helvetica, sans-serif" stroke="#2b2b2b" stroke-width="0.25">0</text>
<text x="153" y="944" font-size="13" text-anchor="middle" font-weight="bold" fill="#2b2b2b" font-family="'Liberation Sans', Arial, Helvetica, sans-serif" stroke="#2b2b2b" stroke-width="0.25">50</text>
<text x="257.3" y="944" font-size="13" text-anchor="middle" font-weight="bold" fill="#2b2b2b" font-family="'Liberation Sans', Arial, Helvetica, sans-serif" stroke="#2b2b2b" stroke-width="0.25">100</text>
<text x="361.6" y="944" font-size="13" text-anchor="middle" font-weight="bold" fill="#2b2b2b" font-family="'Liberation Sans', Arial, Helvetica, sans-serif" stroke="#2b2b2b" stroke-width="0.25">150</text>
<text x="465.9" y="944" font-size="13" text-anchor="middle" font-weight="bold" fill="#2b2b2b" font-family="'Liberation Sans', Arial, Helvetica, sans-serif" stroke="#2b2b2b" stroke-width="0.25">200</text>
<text x="570.2" y="944" font-size="13" text-anchor="middle" font-weight="bold" fill="#2b2b2b" font-family="'Liberation Sans', Arial, Helvetica, sans-serif" stroke="#2b2b2b" stroke-width="0.25">250</text>
<text x="674.5" y="944" font-size="13" text-anchor="middle" font-weight="bold" fill="#2b2b2b" font-family="'Liberation Sans', Arial, Helvetica, sans-serif" stroke="#2b2b2b" stroke-width="0.25">300</text>
<g clip-path="url(#cob)" fill="none" stroke-width="3" stroke-linejoin="round" stroke-linecap="round">
<path d="M51.8 658L52.1 661.4L52.1 658L52.4 658L52.4 664.7L52.7 666.6L52.7 658L53 658L53 670L53.3 673.4L53.3 658L53.7 589.8L53.7 676.8L54 680.1L54 554.9L54.3 554.9L54.3 683.5L54.6 713.8L54.6 603L54.9 619L54.9 744.2L55.2 744.2L55.2 619L55.5 619L55.5 744.2L55.8 744.2L55.8 619L56.2 619L56.2 744.2L56.5 721.4L56.5 619L56.8 619L56.8 698.7L57.1 682.4L57.1 619L57.4 611.3L57.4 679L57.7 675.6L57.7 607.4L58 607.4L58 672.3L58.4 670L58.4 633.1L58.7 646L58.7 670L59 670L59 646L59.3 646L59.3 670L59.6 670L59.6 646L59.9 646L59.9 670L60.2 670L60.2 646L60.5 646L60.5 670L60.9 670L60.9 646L61.2 646L61.2 670L61.5 670L61.5 646L61.8 646L61.8 670L62.1 670L62.1 646L62.4 646L62.4 670L62.7 670L62.7 646L63 646L63 670L63.4 670L63.4 646L63.7 646L63.7 670L64 670L64 646L64.3 646L64.3 670L64.6 670L64.6 646L64.9 646L64.9 670L65.2 670L65.2 646L65.5 646L65.5 670L65.9 670L65.9 646L66.2 646L66.2 670L66.5 670L66.5 646L66.8 646L66.8 670L67.1 670L67.1 646L67.4 646L67.4 670L67.7 670L67.7 646L68.1 646L68.1 670L68.4 670L68.4 646L68.7 646L68.7 670L69 670L69 646L69.3 646L69.3 670L69.6 670.2L69.6 646L69.9 646L69.9 670.7L70.2 671.3L70.2 646L70.6 646L70.6 671.8L70.9 672.4L70.9 640.8L71.2 625.2L71.2 672.9L71.5 673.5L71.5 620L71.8 620L71.8 674.1L72.1 674.6L72.1 620L72.4 624.6L72.4 675.2L72.7 675.7L72.7 638.6L73.1 643.3L73.1 676.3L73.4 676.8L73.4 643.3L73.7 643.3L73.7 677.4L74 677.9L74 643.3L74.3 643.3L74.3 678.1L74.6 678.1L74.6 643.3L74.9 643.3L74.9 678.1L75.2 678.1L75.2 643.3L75.6 643.3L75.6 678.1L75.9 678.1L75.9 636.6L76.2 634.4L76.2 678.1L76.5 678.1L76.5 634.4L76.8 634.4L76.8 678.1L77.1 678.1L77.1 641.1L77.4 643.3L77.4 678.1L77.8 678.1L77.8 643.3L78.1 643.3L78.1 676.8L78.4 674.7L78.4 643.3L78.7 643.3L78.7 672.7L79 670.7L79 643.3L79.3 643.3L79.3 669.9L79.6 669.7L79.6 643.3L79.9 643.3L79.9 669.6L80.3 669.4L80.3 643.3L80.6 643.3L80.6 669.2L80.9 669.1L80.9 632.2L81.2 624.8L81.2 668.9L81.5 668.7L81.5 624.8L81.8 624.8L81.8 668.5L82.1 668.4L82.1 624.8L82.4 638.3L82.4 668.2L82.8 668L82.8 647.3L83.1 647.3L83.1 667.9L83.4 667.7L83.4 647.3L83.7 647.3L83.7 667.5L84 667.4L84 647.3L84.3 647.3L84.3 667.1L84.6 666.8L84.6 647.3L84.9 647.3L84.9 666.5L85.3 666.2L85.3 647.3L85.6 644.2L85.6 665.9L85.9 665.6L85.9 641L86.2 641L86.2 665.3L86.5 665L86.5 641L86.8 646.2L86.8 664.7L87.1 664.4L87.1 651.4L87.5 651.6L87.5 664.1L87.8 663.8L87.8 651.7L88.1 651.8L88.1 663.5L88.4 664.7L88.4 651.9L88.7 652.1L88.7 664.7L89 664.7L89 652.2L89.3 652.3L89.3 664.7L89.6 664.7L89.6 652.4L90 652.6L90 664.7L90.3 664.7L90.3 652.7L90.4 653.4L90.4 662.3L91.4 662.7L91.4 651.6L92.5 653.4L92.5 661.9L93.5 662L93.5 651.5L94.5 657.1L94.5 658.6L95.6 658.5L95.6 657.2L96.6 657.1L96.6 658.5L97.7 658.6L97.7 657.2L98.7 657.3L98.7 658.5L99.8 658.6L99.8 657.4L100.8 657.4L100.8 658.6L101.8 658.6L101.8 657.2L102.9 657.3L102.9 658.6L103.9 658.4L103.9 657.4L105 657.1L105 658.6L106 658.4L106 657.3L107.1 657.3L107.1 658.6L108.1 658.5L108.1 657.3L109.1 657.2L109.1 658.4L110.2 658.6L110.2 657.2L111.2 657.2L111.2 658.4L112.3 658.7L112.3 657.3L113.3 657.3L113.3 658.6L114.4 658.6L114.4 657.3L115.4 657.3L115.4 658.6L116.5 658.5L116.5 657.4L117.5 657.4L117.5 658.6L118.5 658.5L118.5 657.1L119.6 657.1L119.6 658.6L120.6 658.6L120.6 657.4L121.7 657.4L121.7 658.4L122.7 658.4L122.7 657.4L123.8 657.2L123.8 658.5L124.8 658.4L124.8 657.1L125.8 657.4L125.8 658.5L126.9 658.5L126.9 657.2L127.9 657.4L127.9 658.4L129 658.4L129 657.2L130 657.2L130 658.6L131.1 658.5L131.1 657.1L132.1 657.3L132.1 658.6L133.1 658.5L133.1 657.1L134.2 657.1L134.2 658.6L135.2 658.5L135.2 657.1L136.3 657.4L136.3 658.5L137.3 658.5L137.3 657.3L138.4 657.1L138.4 658.6L139.4 658.5L139.4 657.3L140.4 657.1L140.4 658.6L141.5 658.5L141.5 657.2L142.5 657.1L142.5 658.6L143.6 658.6L143.6 657.3L144.6 657.4L144.6 658.6L145.7 658.6L145.7 657.4L146.7 657.4L146.7 658.5L147.7 658.5L147.7 657.3L148.8 657.1L148.8 658.4L149.8 658.4L149.8 657.2L150.9 657.1L150.9 658.4L151.9 658.6L151.9 657.2L153 657.2L153 658.6L154 658.6L154 657.1L155 657.1L155 658.6L156.1 658.5L156.1 657.1L157.1 657.1L157.1 658.4L158.2 658.5L158.2 657.4L159.2 657.3L159.2 658.7L160.3 658.6L160.3 657.4L161.3 657.2L161.3 658.4L162.3 658.5L162.3 657.1L163.4 657.4L163.4 658.4L164.4 658.5L164.4 657.4L165.5 657.3L165.5 658.6L166.5 658.5L166.5 657.3L167.6 657.1L167.6 658.5L168.6 658.5L168.6 657.3L169.6 657.2L169.6 658.5L170.7 658.5L170.7 657.2L171.7 657.2L171.7 658.6L172.8 658.4L172.8 657.1L173.8 657.1L173.8 658.7L174.9 658.4L174.9 657.4L175.9 657.1L175.9 658.4L176.9 658.6L176.9 657.3L178 657.4L178 658.5L179 658.4L179 657.3L180.1 657.3L180.1 658.5L181.1 658.6L181.1 657.1L182.2 657.3L182.2 658.6L183.2 658.5L183.2 657.4L184.3 657.1L184.3 658.6L185.3 658.5L185.3 657.4L186.3 657.3L186.3 658.6L187.4 658.4L187.4 657.2L188.4 657.3L188.4 658.5L189.5 658.6L189.5 657.3L190.5 657.2L190.5 658.5L191.6 658.4L191.6 657.5L192.6 657.3L192.6 658.5L193.6 658.6L193.6 657.3L194.7 657.1L194.7 658.5L195.7 658.4L195.7 657.2L196.8 657.5L196.8 658.5L197.8 658.4L197.8 657.4L198.9 657.3L198.9 658.5L199.9 658.4L199.9 657.2L200.9 657.4L200.9 658.5L202 658.4L202 657.4L203 657.2L203 658.6L204.1 658.4L204.1 657.2L205.1 657.4L205.1 658.6L206.2 658.5L206.2 657.2L207.2 657.4L207.2 658.4L208.2 658.4L208.2 657.5L209.3 657.3L209.3 658.4L210.3 658.4L210.3 657.3L211.4 657.2L211.4 658.6L212.4 658.8L212.4 656.7L213.5 650.7L213.5 661.7L214.5 662.1L214.5 650.7L215.5 650.8L215.5 661.2L216.6 662.7L216.6 650.9L217.6 650.7L217.6 662.5L218.7 662.4L218.7 650L219.7 651.9L219.7 662.3L220.8 661.2L220.8 652.9L221.8 654.2L221.8 661.3L222.8 660.9L222.8 654.8L223.9 655.1L223.9 660.5L224.9 660.3L224.9 655L226 656.7L226 659.2L227 658.6L227 657.2L228.1 657.3L228.1 658.4L229.1 658.4L229.1 657.5L230.1 657.5L230.1 658.5L231.2 658.5L231.2 657.5L232.2 657.5L232.2 658.4L233.3 658.4L233.3 657.3L234.3 657.5L234.3 658.5L235.4 658.4L235.4 657.5L236.4 657.3L236.4 658.4L237.4 658.3L237.4 657.3L238.5 657.4L238.5 658.4L239.5 658.3L239.5 657.3L240.6 657.6L240.6 658.5L241.6 658.3L241.6 657.3L242.7 657.4L242.7 658.3L243.7 658.4L243.7 657.5L244.7 657.3L244.7 658.5L245.8 658.3L245.8 657.4L246.8 657.3L246.8 658.3L247.9 658.3L247.9 657.6L248.9 657.4L248.9 658.3L250 658.4L250 657.5L251 657.4L251 658.4L252.1 658.4L252.1 657.5L253.1 657.6L253.1 658.3L254.1 658.4L254.1 657.5L255.2 657.5L255.2 658.3L256.2 658.3L256.2 657.4L257.3 657.5L257.3 658.4L258.3 658.4L258.3 657.5L259.4 657.4L259.4 658.4L260.4 658.4L260.4 657.5L261.4 657.4L261.4 658.3L262.5 658.3L262.5 657.4L263.5 657.5L263.5 658.3L264.6 658.4L264.6 657.6L265.6 657.5L265.6 658.4L266.7 658.3L266.7 657.4L267.7 657.4L267.7 658.4L268.7 658.4L268.7 657.4L269.8 657.6L269.8 658.4L270.8 658.3L270.8 657.5L271.9 657.5L271.9 658.4L272.9 658.3L272.9 657.6L274 657.6L274 658.4L275 658.4L275 657.5L276 657.5L276 658.4L277.1 658.3L277.1 657.6L278.1 657.6L278.1 658.4L279.2 658.3L279.2 657.6L280.2 657.6L280.2 658.3L281.3 658.3L281.3 657.6L282.3 657.5L282.3 658.3L283.3 658.3L283.3 657.5L284.4 657.4L284.4 658.3L285.4 658.3L285.4 657.5L286.5 657.5L286.5 658.3L287.5 658.3L287.5 657.5L288.6 657.5L288.6 658.2L289.6 658.2L289.6 657.5L290.6 657.6L290.6 658.4L291.7 658.2L291.7 657.6L292.7 657.6L292.7 658.3L293.8 658.3L293.8 657.5L294.8 657.6L294.8 658.3L295.9 658.3L295.9 657.6L296.9 657.6L296.9 658.2L297.9 658.3L297.9 657.7L299 657.6L299 658.3L300 658.3L300 657.7L301.1 657.7L301.1 658.3L302.1 658.2L302.1 657.7L303.2 657.7L303.2 658.3L304.2 658.2L304.2 657.6L305.2 657.6L305.2 658.2L306.3 658.2L306.3 657.6L307.3 657.6L307.3 658.2L308.4 658.2L308.4 657.7L309.4 657.6L309.4 658.3L310.5 658.3L310.5 657.6L311.5 657.6L311.5 658.2L312.6 658.3L312.6 657.6L313.6 657.6L313.6 658.2L314.6 658.3L314.6 657.7L315.7 657.6L315.7 658.2L316.7 658.2L316.7 657.6L317.8 657.6L317.8 658.3L318.8 658.3L318.8 657.7L319.9 657.7L319.9 658.3L320.9 658.2L320.9 657.6L321.9 657.6L321.9 658.2L323 658.3L323 657.6L324 657.6L324 658.3L325.1 658.2L325.1 657.7L326.1 657.6L326.1 658.2L327.2 658.3L327.2 657.7L328.2 657.7L328.2 658.2L329.2 658.2L329.2 657.7L330.3 657.7L330.3 658.3L331.3 658.2L331.3 657.6L332.4 657.7L332.4 658.3L333.4 658.2L333.4 657.6L334.5 657.6L334.5 658.2L335.5 658.3L335.5 657.6L336.5 657.6L336.5 658.3L337.6 658.2L337.6 657.6L338.6 657.7L338.6 658.3L339.7 658.3L339.7 657.7L340.7 657.7L340.7 658.2L341.8 658.2L341.8 657.6L342.8 657.7L342.8 658.3L343.8 658.3L343.8 657.6L344.9 657.7L344.9 658.3L345.9 658.2L345.9 657.7L347 657.7L347 658.3L348 658.3L348 657.7L349.1 657.7L349.1 658.3L350.1 658.3L350.1 657.6L351.1 657.7L351.1 658.2L352.2 658.3L352.2 657.7L353.2 657.6L353.2 658.2L354.3 658.2L354.3 657.6L355.3 657.6L355.3 658.2L356.4 658.2L356.4 657.6L357.4 657.6L357.4 658.2L358.4 658.2L358.4 657.7L359.5 657.7L359.5 658.2L360.5 658.2L360.5 657.7L361.6 657.6L361.6 658.2L362.6 658.2L362.6 657.6L363.7 657.7L363.7 658.2L364.7 658.3L364.7 657.6L365.7 657.6L365.7 658.2L366.8 658.2L366.8 657.7L367.8 657.7L367.8 658.2L368.9 658.2L368.9 657.7L369.9 657.6L369.9 658.3L371 658.2L371 657.6L372 657.6L372 658.2L373 658.3L373 657.6L374.1 657.6L374.1 658.3L375.1 658.3L375.1 657.7L376.2 657.7L376.2 658.3L377.2 658.2L377.2 657.7L378.3 657.6L378.3 658.2L379.3 658.3L379.3 657.7L380.4 657.7L380.4 658.3L381.4 658.3L381.4 657.7L382.4 657.6L382.4 658.2L383.5 658.2L383.5 657.7L384.5 657.7L384.5 658.3L385.6 658.3L385.6 657.7L386.6 657.7L386.6 658.2L387.7 658.2L387.7 657.7L388.7 657.6L388.7 658.2L389.7 658.2L389.7 657.7L390.8 657.7L390.8 658.2L391.8 658.3L391.8 657.7L392.9 657.7L392.9 658.3L393.9 658.3L393.9 657.7L395 657.7L395 658.2L396 658.2L396 657.6L397 657.6L397 658.3L398.1 658.2L398.1 657.6L399.1 657.7L399.1 658.2L400.2 658.2L400.2 657.7L401.2 657.6L401.2 658.2L402.3 658.3L402.3 657.7L403.3 657.6L403.3 658.2L404.3 658.3L404.3 657.6L405.4 657.7L405.4 658.2L406.4 658.2L406.4 657.7L407.5 657.6L407.5 658.2L408.5 658.3L408.5 657.7L409.6 657.7L409.6 658.3L410.6 658.3L410.6 657.7L411.6 657.7L411.6 658.3L412.7 658.2L412.7 657.7L413.7 657.6L413.7 658.3L414.8 658.3L414.8 657.6L415.8 657.7L415.8 658.3L416.9 658.2L416.9 657.6L417.9 657.7L417.9 658.2L418.9 658.2L418.9 657.7L420 657.7L420 658.2L421 658.2L421 657.7L422.1 657.7L422.1 658.3L423.1 658.3L423.1 657.7L424.2 657.7L424.2 658.2L425.2 658.3L425.2 657.6L426.2 657.7L426.2 658.3L427.3 658.2L427.3 657.7L428.3 657.6L428.3 658.2L429.4 658.3L429.4 657.6L430.4 657.6L430.4 658.3L431.5 658.2L431.5 657.7L432.5 657.6L432.5 658.3L433.5 658.2L433.5 657.7L434.6 657.6L434.6 658.2L435.6 658.2L435.6 657.6L436.7 657.6L436.7 658.3L437.7 658.2L437.7 657.6L438.8 657.6L438.8 658.3L439.8 658.2L439.8 657.7L440.8 657.7L440.8 658.3L441.9 658.2L441.9 657.7L442.9 657.7L442.9 658.3L444 658.7L444 656.7L445 656.6L445 659.6L446.1 659.4L446.1 656.2L447.1 656.1L447.1 659.5L448.2 659.6L448.2 656.6L449.2 656.2L449.2 659.3L450.2 659.3L450.2 656.3L451.3 656L451.3 659.6L452.3 659.4L452.3 656.5L453.4 656.2L453.4 659.5L454.4 659.3L454.4 656.1L455.5 657L455.5 659.1L456.5 658.2L456.5 657.7L457.5 657.7L457.5 658.2L458.6 658.2L458.6 657.6L459.6 657.7L459.6 658.3L460.7 658.2L460.7 657.6L461.7 657.7L461.7 658.2L462.8 658.2L462.8 657.6L463.8 657.7L463.8 658.3L464.8 658.6L464.8 657L465.9 655.5L465.9 659.2L466.9 659.5L466.9 655.3L468 654.8L468 659.6L469 660.2L469 655L470.1 655.2L470.1 659.5L471.1 659.6L471.1 656.1L472.1 655.9L472.1 659.2L473.2 658.9L473.2 656.4L474.2 657L474.2 658.8L475.3 658.4L475.3 657.5L476.3 657.7L476.3 658.3L477.4 658.2L477.4 657.7L478.4 657.7L478.4 658.2L479.4 658.3L479.4 657.6L480.5 657.6L480.5 658.3L481.5 658.2L481.5 657.6L482.6 657.7L482.6 658.2L483.6 658.2L483.6 657.6L484.7 656.7L484.7 659.1L485.7 660.4L485.7 654.9L486.7 655.3L486.7 660.6L487.8 661.1L487.8 654L488.8 653.9L488.8 662L489.9 660.7L489.9 654.5L490.9 654.6L490.9 660.9L492 660.2L492 655L493 655.7L493 659.6L494 659.1L494 656.8L495.1 657.4L495.1 658.4L496.1 658.2L496.1 657.6L497.2 657.7L497.2 658.3L498.2 658.2L498.2 657.6L499.3 657.6L499.3 658.3L500.3 658.2L500.3 657.7L501.3 657.6L501.3 658.2L502.4 658.3L502.4 657.6L503.4 657.6L503.4 658.2L504.5 658.2L504.5 657.6L505.5 657.7L505.5 658.2L506.6 658.2L506.6 657.6L507.6 657.7L507.6 658.3L508.6 658.3L508.6 657.6L509.7 657.7L509.7 658.3L510.7 658.3L510.7 657.6L511.8 657.6L511.8 658.3L512.8 658.3L512.8 657.7L513.9 657.7L513.9 658.2L514.9 658.3L514.9 657.7L516 656.8L516 659.2L517 659.3L517 656.6L518 656.2L518 659.6L519.1 659.4L519.1 656.7L520.1 656.8L520.1 659.2L521.2 659.7L521.2 656.2L522.2 656.5L522.2 659.4L523.3 659.2L523.3 656.5L524.3 656.3L524.3 659.2L525.3 659.2L525.3 656.2L526.4 656.7L526.4 659.3L527.4 659.6L527.4 656.7L528.5 656.5L528.5 659.5L529.5 659.3L529.5 656.2L530.6 656.2L530.6 659.2L531.6 658.2L531.6 657.7L532.6 657.6L532.6 658.3L533.7 658.2L533.7 657.7L534.7 657.6L534.7 658.2L535.8 658.3L535.8 657.7L536.8 657.7L536.8 658.3L537.9 658.3L537.9 657.7L538.9 657.6L538.9 658.2L539.9 658.3L539.9 657.7L541 656.8L541 659.7L542 659.5L542 656.9L543.1 656.4L543.1 659.2L544.1 659.6L544.1 657L545.2 656.8L545.2 659.8L546.2 659.4L546.2 656.6L547.2 656.9L547.2 659.7L548.3 659.7L548.3 656.7L549.3 656.8L549.3 659.6L550.4 659.2L550.4 657L551.4 656.6L551.4 659.1L552.5 659.5L552.5 656.8L553.5 656.9L553.5 659.5L554.5 659.2L554.5 656.4L555.6 656.5L555.6 659.9L556.6 659.3L556.6 656.7L557.7 656.8L557.7 659.7L558.7 659.4L558.7 657L559.8 656.6L559.8 659.5L560.8 659.8L560.8 656.9L561.8 656.7L561.8 659.9L562.9 659.2L562.9 656.6L563.9 656.5L563.9 659.7L565 659.6L565 656.9L566 657L566 659.5L567.1 659.4L567.1 656.5L568.1 657L568.1 659.5L569.1 659.3L569.1 656.8L570.2 657L570.2 659.8L571.2 659.2L571.2 656.9L572.3 656.9L572.3 659.2L573.3 659.7L573.3 656.5L574.4 656.5L574.4 659.5L575.4 659.6L575.4 656.9L576.5 656.6L576.5 659.6L577.5 659.7L577.5 656.7L578.5 657L578.5 659.2L579.6 659.7L579.6 656.8L580.6 656.5L580.6 659.4L581.7 659.7L581.7 656.9L582.7 656.9L582.7 659.4L583.8 658.3L583.8 657.7L584.8 657.7L584.8 658.3L585.8 658.3L585.8 657.6L586.9 657.7L586.9 658.2L587.9 658.2L587.9 657.6L589 657.7L589 658.2L590 658.2L590 657.6L591.1 657.6L591.1 658.2L592.1 658.3L592.1 657.7L593.1 657.7L593.1 658.2L594.2 658.2L594.2 657.7L595.2 657.7L595.2 658.3L596.3 658.2L596.3 657.7L597.3 657.6L597.3 658.2L598.4 658.2L598.4 657.7L599.4 657.6L599.4 658.2L600.4 658.2L600.4 657.6L601.5 657.7L601.5 658.2L602.5 658.2L602.5 657.6L603.6 657.6L603.6 658.3L604.6 658.3L604.6 657.6L605.7 657.7L605.7 658.3L606.7 658.2L606.7 657.6L607.7 657.7L607.7 658.3L608.8 658.2L608.8 657.7L609.8 657.7L609.8 658.2L610.9 658.3L610.9 657.6L611.9 657.6L611.9 658.2L613 658.3L613 657.6L614 657.6L614 658.3L615 658.2L615 657.6L616.1 657.7L616.1 658.2L617.1 658.3L617.1 657.7L618.2 657.7L618.2 658.2L619.2 658.3L619.2 657.6L620.3 657.6L620.3 658.2L621.3 658.3L621.3 657.6L622.3 657.7L622.3 658.2L623.4 658.2L623.4 657.6L624.4 657.6L624.4 658.3L625.5 658.3L625.5 657.7L626.5 657.6L626.5 658.3L627.6 658.2L627.6 657.7L628.6 657.6L628.6 658.2L629.6 658.2L629.6 657.6L630.7 657.7L630.7 658.2L631.7 658.2L631.7 657.6L632.8 657.7L632.8 658.3L633.8 658.3L633.8 657.6L634.9 657.7L634.9 658.2L635.9 658.2L635.9 657.6L636.9 657.7L636.9 658.2L638 658.2L638 657.7L639 657.7L639 658.2L640.1 658.3L640.1 657.6L641.1 657.7L641.1 658.3L642.2 658.2L642.2 657.7L643.2 657.7L643.2 658.2L644.3 658.3L644.3 657.7L645.3 657.7L645.3 658.2L646.3 658.2L646.3 657.6L647.4 657.6L647.4 658.2L648.4 658.3L648.4 657.6L649.5 657.7L649.5 658.2L650.5 658.3L650.5 657.7L651.6 657.7L651.6 658.3L652.6 658.2L652.6 657.7L653.6 656.7L653.6 659.4L654.7 659.6L654.7 656.6L655.7 656.6L655.7 659.4L656.8 659.5L656.8 656.7L657.8 657L657.8 659.1L658.9 659.4L658.9 656.8L659.9 656.6L659.9 659.1L660.9 659.4L660.9 656.4L662 656.4L662 659.5L663 659.2L663 656.7L664.1 656.4L664.1 659.1L665.1 659.6L665.1 656.9L666.2 656.6L666.2 659.1L667.2 659.2L667.2 656.5L668.2 657L668.2 659.6L669.3 659.6L669.3 657L670.3 656.8L670.3 659.5L671.4 658.2L671.4 657.7L672.4 657.7L672.4 658.3L673.5 658.2L673.5 657.7L674.5 657.6L674.5 658.2" stroke="#7E2F8E"/>
<path d="M51.4 658L51.7 763.1L51.7 657.7L52 657.4L52 869.7L52.3 869.7L52.3 657.1L52.6 656.7L52.6 869.7L52.9 869.7L52.9 656.4L53.2 656.1L53.2 869.7L53.6 869.7L53.6 655.8L53.9 655.5L53.9 826.5L54.2 761.7L54.2 655.2L54.5 654.8L54.5 697L54.8 697L54.8 654.5L55.1 654.2L55.1 697L55.4 697L55.4 653.9L55.7 653.6L55.7 697L56.1 697L56.1 653.3L56.4 652.9L56.4 697L56.7 697L56.7 652.6L57 652.3L57 697L57.3 697L57.3 652L57.6 651.7L57.6 697L57.9 697L57.9 651.4L58.2 652.5L58.2 697L58.6 697L58.6 652.2L58.9 651.9L58.9 697L59.2 697L59.2 651.6L59.5 651.3L59.5 697L59.8 697L59.8 650.9L60.1 650.6L60.1 697L60.4 697L60.4 650.3L60.7 650L60.7 697L61.1 697L61.1 649.7L61.4 649.4L61.4 697L61.7 697L61.7 649.1L62 648.7L62 719.2L62.3 741.5L62.3 648.4L62.6 648.1L62.6 741.5L62.9 719.2L62.9 647.8L63.3 647.5L63.3 711.8L63.6 711.8L63.6 647.2L63.9 646.8L63.9 711.8L64.2 711.8L64.2 646.5L64.5 646.2L64.5 711.8L64.8 711.8L64.8 631.4L65.1 587.7L65.1 711.8L65.4 711.8L65.4 587.7L65.8 587.7L65.8 711.8L66.1 711.8L66.1 587.7L66.4 587.7L66.4 711.8L66.7 711.8L66.7 613.5L67 639.2L67 726.7L67.3 741.5L67.3 639.8L67.6 640.3L67.6 741.5L67.9 741.5L67.9 640.8L68.3 641.3L68.3 741.5L68.6 741.5L68.6 641.8L68.9 642.3L68.9 705.8L69.2 670L69.2 642.8L69.5 643.3L69.5 669.8L69.8 669.6L69.8 643.4L70.1 643.4L70.1 669.5L70.5 669.3L70.5 643.5L70.8 643.6L70.8 669.2L71.1 669L71.1 643.7L71.4 643.7L71.4 668.9L71.7 668.7L71.7 643.8L72 643.9L72 668.6L72.3 668.4L72.3 644L72.6 644L72.6 668.2L73 668.1L73 644.1L73.3 644.2L73.3 667.9L73.6 667.8L73.6 644.3L73.9 644.3L73.9 667.6L74.2 667.5L74.2 644.4L74.5 644.5L74.5 667.3L74.8 667.2L74.8 644.5L75.1 644.6L75.1 667L75.5 666.8L75.5 644.7L75.8 644.8L75.8 666.7L76.1 666.5L76.1 644.8L76.4 644.9L76.4 666.4L76.7 666.2L76.7 645L77 645.1L77 666.1L77.3 665.9L77.3 645.1L77.6 645.2L77.6 665.8L78 665.6L78 645.3L78.3 645.4L78.3 665.4L78.6 665.3L78.6 645.4L78.9 645.5L78.9 665.1L79.2 665L79.2 645.6L79.5 645.7L79.5 664.8L79.8 664.7L79.8 645.7L80.2 645.8L80.2 664.5L80.5 664.4L80.5 645.9L80.8 645.9L80.8 664.3L81.1 664.2L81.1 646.8L81.4 649.2L81.4 664L81.7 663.9L81.7 651.7L82 652.6L82 663.8L82.3 663.7L82.3 652.7L82.7 652.7L82.7 663.6L83 663.4L83 652.8L83.3 652.8L83.3 663.3L83.6 664.7L83.6 652.9L83.9 652.9L83.9 664.6L84.2 664.4L84.2 653L84.5 653L84.5 664.3L84.8 664.2L84.8 653.1L85.2 653.1L85.2 664.1L85.5 663.9L85.5 653.2L85.8 653.2L85.8 663.8L86.1 663.7L86.1 653.3L86.4 653.3L86.4 663.6L86.7 663.5L86.7 653.4L87 653.4L87 663.3L87.3 663.2L87.3 653.5L87.7 653.5L87.7 663.1L88 663L88 653.6L88.3 653.6L88.3 662.9L88.6 662.7L88.6 653.7L88.9 653.7L88.9 662.6L89.2 662.5L89.2 653.8L89.5 653.8L89.5 662.4L89.9 662.2L89.9 653.9L90.2 653.9L90.2 662.1L90.4 659.3L90.4 656.5L91.4 656.8L91.4 659.1L92.5 658.9L92.5 656.5L93.5 657L93.5 659.1L94.5 659.2L94.5 657L95.6 656.6L95.6 658.9L96.6 659.1L96.6 656.7L97.7 656.8L97.7 659.2L98.7 659L98.7 656.8L99.8 656.6L99.8 659.3L100.8 658.9L100.8 656.7L101.8 656.6L101.8 659L102.9 659.2L102.9 656.7L103.9 656.7L103.9 659.2L105 659.2L105 656.6L106 656.4L106 658.9L107.1 659.3L107.1 656.5L108.1 656.8L108.1 658.9L109.1 659.2L109.1 656.5L110.2 656.5L110.2 659L111.2 659.1L111.2 657L112.3 657L112.3 658.7L113.3 658.7L113.3 657L114.4 657L114.4 658.7L115.4 658.5L115.4 657L116.5 657.1L116.5 658.7L117.5 658.7L117.5 657.3L118.5 656.9L118.5 658.8L119.6 658.5L119.6 657.2L120.6 657.3L120.6 658.6L121.7 658.5L121.7 657L122.7 656.9L122.7 658.7L123.8 658.7L123.8 657.2L124.8 657.1L124.8 658.6L125.8 658.5L125.8 657.1L126.9 657L126.9 658.5L127.9 658.7L127.9 656.9L129 657.2L129 658.7L130 658.7L130 657.2L131.1 657.2L131.1 658.7L132.1 658.5L132.1 657L133.1 657L133.1 658.5L134.2 658.5L134.2 657.2L135.2 656.9L135.2 658.7L136.3 658.5L136.3 657.2L137.3 657.2L137.3 658.7L138.4 658.5L138.4 657L139.4 657.3L139.4 658.7L140.4 658.6L140.4 657.2L141.5 657L141.5 658.6L142.5 658.6L142.5 657L143.6 657.2L143.6 658.5L144.6 658.7L144.6 657.3L145.7 657.1L145.7 658.5L146.7 658.6L146.7 657.2L147.7 657L147.7 658.5L148.8 658.6L148.8 657.3L149.8 657.2L149.8 658.7L150.9 658.7L150.9 657L151.9 657.1L151.9 658.5L153 658.6L153 657L154 656.9L154 658.6L155 658.6L155 657L156.1 657.3L156.1 658.7L157.1 658.5L157.1 657.1L158.2 657.1L158.2 658.7L159.2 658.7L159.2 657.2L160.3 657L160.3 658.6L161.3 658.5L161.3 657L162.3 657.1L162.3 658.7L163.4 658.7L163.4 657.3L164.4 657L164.4 658.5L165.5 658.5L165.5 657.3L166.5 657.3L166.5 658.5L167.6 658.6L167.6 657L168.6 657.2L168.6 658.6L169.6 658.7L169.6 657.3L170.7 657.1L170.7 658.5L171.7 658.7L171.7 657.3L172.8 657.1L172.8 658.6L173.8 658.5L173.8 657.2L174.9 657.3L174.9 658.5L175.9 658.6L175.9 656.9L176.9 657.3L176.9 658.5L178 658.6L178 657.1L179 657.2L179 658.7L180.1 658.5L180.1 657.1L181.1 657L181.1 658.6L182.2 658.7L182.2 657.1L183.2 657.1L183.2 658.4L184.3 658.6L184.3 657.3L185.3 657.1L185.3 658.6L186.3 658.5L186.3 657.3L187.4 657.2L187.4 658.6L188.4 658.6L188.4 657.4L189.5 657.3L189.5 658.6L190.5 658.5L190.5 657L191.6 657.2L191.6 658.5L192.6 658.7L192.6 657.2L193.6 657.3L193.6 658.6L194.7 658.6L194.7 657.1L195.7 657.3L195.7 658.5L196.8 658.7L196.8 657.4L197.8 657.1L197.8 658.4L198.9 661L198.9 653.6L199.9 652.4L199.9 661.5L200.9 661.7L200.9 653.8L202 652.3L202 661.1L203 661.6L203 652.8L204.1 654.2L204.1 661L205.1 660.6L205.1 652.9L206.2 652.6L206.2 660.5L207.2 660.7L207.2 651.9L208.2 652.3L208.2 662L209.3 660.7L209.3 652.4L210.3 653L210.3 660.4L211.4 661.3L211.4 654.2L212.4 652.2L212.4 661.2L213.5 660.9L213.5 654.2L214.5 652.9L214.5 661.9L215.5 658.6L215.5 657.1L216.6 657.4L216.6 658.5L217.6 658.4L217.6 657.4L218.7 657.2L218.7 658.6L219.7 658.5L219.7 657.3L220.8 657.4L220.8 658.5L221.8 658.6L221.8 657.4L222.8 657.2L222.8 658.6L223.9 658.5L223.9 657.4L224.9 657.5L224.9 658.6L226 658.6L226 657.4L227 657.4L227 658.5L228.1 658.6L228.1 657.4L229.1 657.5L229.1 658.5L230.1 658.5L230.1 657.2L231.2 657.3L231.2 658.5L232.2 658.4L232.2 657.4L233.3 657.3L233.3 658.5L234.3 658.5L234.3 657.4L235.4 657.2L235.4 658.5L236.4 658.4L236.4 657.3L237.4 657.3L237.4 658.6L238.5 658.5L238.5 657.2L239.5 657.4L239.5 658.4L240.6 658.4L240.6 657.4L241.6 657.2L241.6 658.5L242.7 658.4L242.7 657.3L243.7 657.2L243.7 658.4L244.7 658.4L244.7 657.2L245.8 657.3L245.8 658.5L246.8 658.4L246.8 657.5L247.9 657.3L247.9 658.5L248.9 658.4L248.9 657.4L250 657.5L250 658.5L251 658.4L251 657.4L252.1 657.5L252.1 658.5L253.1 658.4L253.1 657.3L254.1 657.3L254.1 658.4L255.2 658.4L255.2 657.5L256.2 657.5L256.2 658.4L257.3 658.5L257.3 657.5L258.3 657.5L258.3 658.5L259.4 658.5L259.4 657.3L260.4 657.5L260.4 658.4L261.4 658.5L261.4 657.5L262.5 657.5L262.5 658.4L263.5 658.5L263.5 657.5L264.6 657.3L264.6 658.4L265.6 658.4L265.6 657.3L266.7 657.4L266.7 658.4L267.7 658.5L267.7 657.5L268.7 657.6L268.7 658.4L269.8 658.3L269.8 657.3L270.8 657.5L270.8 658.4L271.9 658.3L271.9 657.5L272.9 657.4L272.9 658.4L274 658.4L274 657.5L275 657.4L275 658.4L276 658.5L276 657.5L277.1 657.5L277.1 658.4L278.1 658.3L278.1 657.4L279.2 657.4L279.2 658.4L280.2 658.4L280.2 657.5L281.3 657.6L281.3 658.3L282.3 658.3L282.3 657.4L283.3 657.5L283.3 658.4L284.4 658.4L284.4 657.6L285.4 657.6L285.4 658.4L286.5 658.3L286.5 657.5L287.5 657.6L287.5 658.4L288.6 658.4L288.6 657.6L289.6 657.4L289.6 658.3L290.6 658.4L290.6 657.5L291.7 657.6L291.7 658.4L292.7 658.4L292.7 657.6L293.8 657.4L293.8 658.3L294.8 658.3L294.8 657.6L295.9 657.5L295.9 658.4L296.9 658.4L296.9 657.5L297.9 657.5L297.9 658.2L299 658.4L299 657.5L300 657.5L300 658.3L301.1 658.3L301.1 657.5L302.1 657.5L302.1 658.4L303.2 658.3L303.2 657.6L304.2 657.5L304.2 658.4L305.2 658.4L305.2 657.6L306.3 657.5L306.3 658.3L307.3 658.3L307.3 657.6L308.4 657.7L308.4 658.3L309.4 658.3L309.4 657.5L310.5 657.6L310.5 658.3L311.5 658.3L311.5 657.5L312.6 657.7L312.6 658.3L313.6 658.2L313.6 657.7L314.6 657.5L314.6 658.3L315.7 658.3L315.7 657.7L316.7 657.6L316.7 658.3L317.8 658.3L317.8 657.5L318.8 657.6L318.8 658.3L319.9 658.3L319.9 657.7L320.9 657.5L320.9 658.3L321.9 658.3L321.9 657.7L323 657.7L323 658.3L324 658.3L324 657.7L325.1 657.6L325.1 658.2L326.1 658.3L326.1 657.6L327.2 657.5L327.2 658.2L328.2 658.2L328.2 657.6L329.2 657.6L329.2 658.3L330.3 658.2L330.3 657.7L331.3 657.6L331.3 658.3L332.4 658.3L332.4 657.5L333.4 657.5L333.4 658.3L334.5 658.3L334.5 657.6L335.5 657.7L335.5 658.3L336.5 658.3L336.5 657.7L337.6 657.6L337.6 658.2L338.6 658.2L338.6 657.6L339.7 657.6L339.7 658.3L340.7 658.2L340.7 657.6L341.8 657.6L341.8 658.2L342.8 658.3L342.8 657.5L343.8 657.6L343.8 658.2L344.9 658.2L344.9 657.5L345.9 657.7L345.9 658.3L347 658.2L347 657.5L348 657.5L348 658.3L349.1 658.2L349.1 657.6L350.1 657.7L350.1 658.3L351.1 658.3L351.1 657.7L352.2 657.6L352.2 658.3L353.2 658.2L353.2 657.6L354.3 657.6L354.3 658.3L355.3 658.3L355.3 657.6L356.4 657.6L356.4 658.2L357.4 658.3L357.4 657.5L358.4 657.6L358.4 658.2L359.5 658.3L359.5 657.6L360.5 657.6L360.5 658.3L361.6 658.3L361.6 657.6L362.6 657.6L362.6 658.2L363.7 658.2L363.7 657.6L364.7 657.6L364.7 658.3L365.7 658.2L365.7 657.6L366.8 657.5L366.8 658.3L367.8 658.2L367.8 657.6L368.9 657.7L368.9 658.3L369.9 658.3L369.9 657.7L371 657.6L371 658.3L372 658.2L372 657.6L373 657.6L373 658.3L374.1 658.3L374.1 657.5L375.1 657.5L375.1 658.2L376.2 658.3L376.2 657.6L377.2 657.6L377.2 658.3L378.3 658.2L378.3 657.6L379.3 657.6L379.3 658.2L380.4 658.3L380.4 657.7L381.4 657.6L381.4 658.2L382.4 658.3L382.4 657.5L383.5 657.7L383.5 658.3L384.5 658.3L384.5 657.7L385.6 657.6L385.6 658.2L386.6 658.2L386.6 657.6L387.7 657.6L387.7 658.3L388.7 658.3L388.7 657.7L389.7 657.6L389.7 658.3L390.8 658.3L390.8 657.5L391.8 657.6L391.8 658.3L392.9 658.3L392.9 657.7L393.9 657.6L393.9 658.2L395 658.3L395 657.6L396 657.7L396 658.3L397 658.3L397 657.5L398.1 657.7L398.1 658.2L399.1 658.3L399.1 657.6L400.2 657.5L400.2 658.3L401.2 658.3L401.2 657.6L402.3 657.6L402.3 658.2L403.3 658.2L403.3 657.6L404.3 657.7L404.3 658.3L405.4 658.2L405.4 657.7L406.4 657.6L406.4 658.3L407.5 658.3L407.5 657.5L408.5 657.7L408.5 658.3L409.6 658.2L409.6 657.5L410.6 657.6L410.6 658.3L411.6 658.3L411.6 657.7L412.7 657.6L412.7 658.3L413.7 658.3L413.7 657.6L414.8 657.5L414.8 658.3L415.8 658.2L415.8 657.6L416.9 657.5L416.9 658.3L417.9 658.3L417.9 657.6L418.9 657.6L418.9 658.2L420 658.3L420 657.6L421 657.7L421 658.3L422.1 658.3L422.1 657.6L423.1 657.6L423.1 658.3L424.2 658.2L424.2 657.5L425.2 657.5L425.2 658.3L426.2 658.2L426.2 657.6L427.3 657.6L427.3 658.2L428.3 658.3L428.3 657.6L429.4 657.6L429.4 658.2L430.4 658.2L430.4 657.5L431.5 657.5L431.5 658.2L432.5 658.2L432.5 657.7L433.5 657.5L433.5 658.3L434.6 658.2L434.6 657.7L435.6 657.7L435.6 658.3L436.7 658.3L436.7 657.7L437.7 657.6L437.7 658.3L438.8 658.2L438.8 657.5L439.8 657.5L439.8 658.3L440.8 658.2L440.8 657.6L441.9 657.6L441.9 658.2L442.9 658.3L442.9 657.5L444 657.6L444 658.3L445 658.2L445 657.7L446.1 657.7L446.1 658.2L447.1 658.3L447.1 657.6L448.2 657.6L448.2 658.3L449.2 658.3L449.2 657.5L450.2 657.6L450.2 658.2L451.3 658.2L451.3 657.6L452.3 657.6L452.3 658.2L453.4 658.3L453.4 657.6L454.4 657.6L454.4 658.2L455.5 658.3L455.5 657.5L456.5 657.5L456.5 658.3L457.5 658.2L457.5 657.6L458.6 657.7L458.6 658.2L459.6 658.3L459.6 657.5L460.7 657.6L460.7 658.3L461.7 658.2L461.7 657.5L462.8 657.7L462.8 658.3L463.8 658.3L463.8 657.5L464.8 657.6L464.8 658.2L465.9 658.3L465.9 657.6L466.9 657.6L466.9 658.3L468 658.3L468 657.7L469 657.7L469 658.2L470.1 658.3L470.1 657.6L471.1 657.6L471.1 658.3L472.1 658.2L472.1 657.7L473.2 657.7L473.2 658.3L474.2 658.3L474.2 657.5L475.3 657.6L475.3 658.2L476.3 658.3L476.3 657.6L477.4 657.5L477.4 658.2L478.4 658.3L478.4 657.5L479.4 657.7L479.4 658.3L480.5 658.3L480.5 657.7L481.5 657.6L481.5 658.3L482.6 658.3L482.6 657.5L483.6 657.7L483.6 658.2L484.7 658.3L484.7 657.5L485.7 657.5L485.7 658.3L486.7 658.3L486.7 657.6L487.8 657.7L487.8 658.3L488.8 658.3L488.8 657.7L489.9 657.7L489.9 658.3L490.9 658.3L490.9 657.5L492 657.7L492 658.2L493 658.3L493 657.5L494 657.6L494 658.3L495.1 658.3L495.1 657.7L496.1 657.5L496.1 658.3L497.2 658.3L497.2 657.6L498.2 657.6L498.2 658.3L499.3 658.3L499.3 657.6L500.3 657.6L500.3 658.3L501.3 658.3L501.3 657.6L502.4 657.7L502.4 658.3L503.4 658.3L503.4 657.7L504.5 657.5L504.5 658.3L505.5 658.2L505.5 657.7L506.6 657.6L506.6 658.3L507.6 658.3L507.6 657.7L508.6 657.6L508.6 658.2L509.7 658.2L509.7 657.7L510.7 657.7L510.7 658.3L511.8 658.3L511.8 657.6L512.8 657.7L512.8 658.3L513.9 658.2L513.9 657.7L514.9 657.6L514.9 658.2L516 658.3L516 657.5L517 657.6L517 658.2L518 658.3L518 657.5L519.1 657.6L519.1 658.3L520.1 658.3L520.1 657.5L521.2 657.5L521.2 658.2L522.2 658.2L522.2 657.6L523.3 657.5L523.3 658.3L524.3 658.3L524.3 657.6L525.3 657.6L525.3 658.2L526.4 658.3L526.4 657.5L527.4 657.6L527.4 658.2L528.5 658.3L528.5 657.7L529.5 657.6L529.5 658.3L530.6 658.2L530.6 657.6L531.6 657.7L531.6 658.3L532.6 658.3L532.6 657.7L533.7 657.7L533.7 658.3L534.7 658.3L534.7 657.6L535.8 657.7L535.8 658.2L536.8 658.3L536.8 657.7L537.9 657.7L537.9 658.3L538.9 658.2L538.9 657.5L539.9 657.5L539.9 658.3L541 658.2L541 657.6L542 657.6L542 658.3L543.1 658.2L543.1 657.6L544.1 657.6L544.1 658.2L545.2 658.2L545.2 657.6L546.2 657.5L546.2 658.3L547.2 658.2L547.2 657.6L548.3 657.6L548.3 658.3L549.3 658.3L549.3 657.7L550.4 657.7L550.4 658.2L551.4 658.2L551.4 657.7L552.5 657.5L552.5 658.2L553.5 658.2L553.5 657.6L554.5 657.6L554.5 658.2L555.6 658.2L555.6 657.7L556.6 657.7L556.6 658.3L557.7 658.3L557.7 657.5L558.7 657.6L558.7 658.2L559.8 658.3L559.8 657.7L560.8 657.6L560.8 658.3L561.8 658.3L561.8 657.6L562.9 657.6L562.9 658.3L563.9 658.2L563.9 657.6L565 657.6L565 658.3L566 658.3L566 657.7L567.1 657.6L567.1 658.3L568.1 658.3L568.1 657.6L569.1 657.6L569.1 658.3L570.2 658.2L570.2 657.6L571.2 657.5L571.2 658.3L572.3 658.3L572.3 657.6L573.3 657.6L573.3 658.3L574.4 658.2L574.4 657.7L575.4 657.6L575.4 658.3L576.5 658.2L576.5 657.6L577.5 657.5L577.5 658.2L578.5 658.2L578.5 657.6L579.6 657.6L579.6 658.3L580.6 658.3L580.6 657.6L581.7 657.6L581.7 658.3L582.7 658.2L582.7 657.5L583.8 657.6L583.8 658.3L584.8 658.2L584.8 657.7L585.8 657.6L585.8 658.2L586.9 658.3L586.9 657.5L587.9 657.6L587.9 658.3L589 658.3L589 657.6L590 657.7L590 658.3L591.1 658.2L591.1 657.6L592.1 657.6L592.1 658.3L593.1 658.2L593.1 657.7L594.2 657.6L594.2 658.3L595.2 658.2L595.2 657.6L596.3 657.5L596.3 658.3L597.3 658.3L597.3 657.7L598.4 657.5L598.4 658.2L599.4 658.3L599.4 657.6L600.4 657.7L600.4 658.3L601.5 658.3L601.5 657.7L602.5 657.6L602.5 658.3L603.6 658.3L603.6 657.7L604.6 657.6L604.6 658.2L605.7 658.2L605.7 657.5L606.7 657.7L606.7 658.3L607.7 658.3L607.7 657.6L608.8 657.7L608.8 658.3L609.8 658.2L609.8 657.7L610.9 657.6L610.9 658.3L611.9 658.3L611.9 657.5L613 657.6L613 658.3L614 658.2L614 657.6L615 657.6L615 658.3L616.1 658.3L616.1 657.6L617.1 657.6L617.1 658.3L618.2 658.3L618.2 657.7L619.2 657.5L619.2 658.3L620.3 658.3L620.3 657.6L621.3 657.7L621.3 658.3L622.3 658.2L622.3 657.6L623.4 657.7L623.4 658.2L624.4 658.3L624.4 657.7L625.5 657.6L625.5 658.2L626.5 658.3L626.5 657.6L627.6 657.6L627.6 658.2L628.6 658.3L628.6 657.6L629.6 657.7L629.6 658.3L630.7 658.3L630.7 657.7L631.7 657.6L631.7 658.3L632.8 658.3L632.8 657.6L633.8 657.7L633.8 658.2L634.9 658.3L634.9 657.7L635.9 657.6L635.9 658.3L636.9 658.3L636.9 657.6L638 657.6L638 658.2L639 658.3L639 657.7L640.1 657.6L640.1 658.2L641.1 658.3L641.1 657.6L642.2 657.6L642.2 658.2L643.2 658.3L643.2 657.6L644.3 657.6L644.3 658.3L645.3 658.2L645.3 657.6L646.3 657.7L646.3 658.2L647.4 658.3L647.4 657.6L648.4 657.6L648.4 658.3L649.5 658.3L649.5 657.6L650.5 657.6L650.5 658.3L651.6 658.3L651.6 657.5L652.6 657.5L652.6 658.2L653.6 658.2L653.6 657.6L654.7 657.6L654.7 658.2L655.7 658.3L655.7 657.5L656.8 657.7L656.8 658.3L657.8 658.3L657.8 657.7L658.9 657.6L658.9 658.3L659.9 658.3L659.9 657.7L660.9 657.7L660.9 658.3L662 658.3L662 657.5L663 657.6L663 658.3L664.1 658.2L664.1 657.7L665.1 657.6L665.1 658.2L666.2 658.3L666.2 657.7L667.2 657.7L667.2 658.3L668.2 658.3L668.2 657.5L669.3 657.5L669.3 658.3L670.3 658.3L670.3 657.7L671.4 657.7L671.4 658.2L672.4 658.2L672.4 657.7L673.5 657.7L673.5 658.2L674.5 658.3L674.5 657.6" stroke="#77AC30"/>
<path d="M50.7 658L51 757L51 654.9L51.4 651.8L51.4 857.5L51.7 857.5L51.7 650.1L52 647L52 857.5L52.3 857.5L52.3 643.9L52.6 640.8L52.6 857.5L52.9 857.5L52.9 637.7L53.2 634.6L53.2 857.5L53.6 790.7L53.6 610.6L53.9 557.9L53.9 724L54.2 724L54.2 557.9L54.5 557.9L54.5 724L54.8 724L54.8 593.6L55.1 607.9L55.1 724L55.4 724L55.4 611.4L55.7 615L55.7 724L56.1 724L56.1 615.6L56.4 616.3L56.4 724L56.7 724L56.7 617L57 617.7L57 724L57.3 724L57.3 618.3L57.6 619L57.6 724L57.9 724L57.9 619.7L58.2 620.4L58.2 732.5L58.6 745.3L58.6 620.4L58.9 620.4L58.9 749.6L59.2 749.6L59.2 620.4L59.5 620.4L59.5 749.6L59.8 749.6L59.8 620.4L60.1 620.4L60.1 749.6L60.4 741.3L60.4 620L60.7 618.8L60.7 716.5L61.1 691.8L61.1 617.6L61.4 616.4L61.4 683.2L61.7 682.8L61.7 615.6L62 615.6L62 682.4L62.3 682L62.3 615.6L62.6 615.6L62.6 681.6L62.9 681.2L62.9 619.6L63.3 631.4L63.3 680.8L63.6 680.4L63.6 639.3L63.9 639.3L63.9 680L64.2 679.6L64.2 639.3L64.5 639.4L64.5 679L64.8 678.3L64.8 639.4L65.1 639.4L65.1 677.6L65.4 676.9L65.4 639.5L65.8 639.5L65.8 676.1L66.1 675.4L66.1 639.5L66.4 639.6L66.4 674.7L66.7 674L66.7 639.6L67 639.6L67 673.3L67.3 672.6L67.3 639.7L67.6 639.7L67.6 671.9L67.9 671.2L67.9 639.8L68.3 639.8L68.3 670.5L68.6 669.3L68.6 643L68.9 646.3L68.9 667.3L69.2 665.3L69.2 649.5L69.5 652.7L69.5 663.3L69.8 664.7L69.8 651.3L70.1 651.3L70.1 664.7L70.5 664.6L70.5 651.4L70.8 651.4L70.8 664.6L71.1 664.5L71.1 651.5L71.4 651.5L71.4 664.5L71.7 664.5L71.7 651.5L72 651.6L72 664.4L72.3 664.4L72.3 651.6L72.6 651.7L72.6 664.3L73 664.3L73 651.7L73.3 651.7L73.3 664.3L73.6 664.2L73.6 651.8L73.9 651.8L73.9 664.2L74.2 664.1L74.2 651.9L74.5 651.9L74.5 664.1L74.8 664.1L74.8 651.9L75.1 652L75.1 664L75.5 664L75.5 652L75.8 652.1L75.8 663.9L76.1 663.9L76.1 652.1L76.4 652.1L76.4 663.9L76.7 663.8L76.7 652.2L77 652.2L77 663.8L77.3 663.7L77.3 652.3L77.6 652.3L77.6 663.7L78 663.7L78 652.3L78.3 652.4L78.3 663.6L78.6 663.6L78.6 652.4L78.9 652.5L78.9 663.5L79.2 663.5L79.2 652.5L79.5 652.6L79.5 663.4L79.8 663.4L79.8 652.6L80.2 652.6L80.2 663.4L80.5 663.3L80.5 652.7L80.8 652.7L80.8 663.3L81.1 663.2L81.1 652.8L81.4 652.8L81.4 663.2L81.7 663.2L81.7 652.8L82 652.9L82 663.1L82.3 663.1L82.3 652.9L82.7 653L82.7 663L83 663L83 653L83.3 653L83.3 663L83.6 662.9L83.6 653.1L83.9 653.1L83.9 662.9L84.2 662.8L84.2 653.2L84.5 653.2L84.5 662.8L84.8 662.8L84.8 653.2L85.2 653.3L85.2 662.7L85.5 662.7L85.5 653.3L85.8 653.4L85.8 662.6L86.1 662.6L86.1 653.4L86.4 653.4L86.4 662.6L86.7 662.5L86.7 653.5L87 653.5L87 662.5L87.3 662.4L87.3 653.6L87.7 653.6L87.7 662.4L88 662.4L88 653.6L88.3 653.7L88.3 662.3L88.6 662.3L88.6 653.7L88.9 653.8L88.9 662.2L89.2 662.2L89.2 653.8L89.5 653.8L89.5 662.2L89.9 662.1L89.9 653.9L90.2 653.9L90.2 662.1L90.4 659.6L90.4 656.1L91.4 656.5L91.4 659L92.5 659.1L92.5 656.1L93.5 656.3L93.5 659.6L94.5 659.6L94.5 656.3L95.6 656.7L95.6 659.4L96.6 659.3L96.6 656.1L97.7 656.9L97.7 659.5L98.7 659.3L98.7 656.7L99.8 656.5L99.8 659.6L100.8 659.5L100.8 656.3L101.8 656.7L101.8 659.4L102.9 659L102.9 656.2L103.9 656.1L103.9 659.4L105 659L105 656.7L106 656.4L106 659.1L107.1 659.5L107.1 656.9L108.1 656.6L108.1 659.3L109.1 659.3L109.1 656.8L110.2 656.1L110.2 659.4L111.2 659.5L111.2 656.5L112.3 656.1L112.3 659.6L113.3 659L113.3 656.3L114.4 656.2L114.4 659L115.4 659L115.4 656.7L116.5 656.8L116.5 659.6L117.5 659.3L117.5 656.4L118.5 656.7L118.5 659.2L119.6 659.4L119.6 656.3L120.6 656.6L120.6 659L121.7 659.2L121.7 656.5L122.7 656.2L122.7 659.2L123.8 659.4L123.8 656.5L124.8 656.8L124.8 659.1L125.8 659.6L125.8 656.7L126.9 656.5L126.9 659L127.9 659L127.9 656.5L129 656.4L129 659.1L130 659.6L130 656.6L131.1 656.4L131.1 659.1L132.1 659.4L132.1 656.6L133.1 656.4L133.1 659.4L134.2 659.2L134.2 656.3L135.2 656.7L135.2 659.2L136.3 659.5L136.3 656.6L137.3 656.5L137.3 659L138.4 659L138.4 656.3L139.4 656.7L139.4 659.2L140.4 659.2L140.4 656.4L141.5 656.4L141.5 659L142.5 659L142.5 656.2L143.6 657L143.6 658.8L144.6 658.9L144.6 656.8L145.7 657.1L145.7 658.8L146.7 658.6L146.7 656.9L147.7 657.1L147.7 658.7L148.8 658.8L148.8 656.7L149.8 657L149.8 658.6L150.9 658.6L150.9 656.7L151.9 657L151.9 658.6L153 658.7L153 656.7L154 657L154 658.8L155 660L155 656.3L156.1 655.1L156.1 660L157.1 660.1L157.1 654.7L158.2 654.7L158.2 660.3L159.2 660.5L159.2 655.1L160.3 655.8L160.3 660.3L161.3 661.2L161.3 655.1L162.3 655.6L162.3 660.4L163.4 661.1L163.4 654.9L164.4 654.6L164.4 661.2L165.5 660.3L165.5 655.2L166.5 655L166.5 660.1L167.6 661L167.6 655.8L168.6 655.1L168.6 660L169.6 658.6L169.6 657.1L170.7 656.9L170.7 658.6L171.7 658.6L171.7 657L172.8 656.8L172.8 658.8L173.8 658.6L173.8 657.2L174.9 657.1L174.9 658.7L175.9 658.8L175.9 656.8L176.9 656.9L176.9 658.8L178 658.6L178 656.9L179 656.8L179 658.8L180.1 658.8L180.1 657L181.1 656.8L181.1 658.6L182.2 658.7L182.2 656.9L183.2 656.7L183.2 658.7L184.3 658.6L184.3 656.9L185.3 657.1L185.3 658.8L186.3 658.6L186.3 657L187.4 656.8L187.4 658.8L188.4 658.7L188.4 657.1L189.5 657.1L189.5 658.8L190.5 658.7L190.5 657L191.6 657L191.6 658.8L192.6 658.7L192.6 656.9L193.6 651.2L193.6 662.7L194.7 663L194.7 651.8L195.7 651.3L195.7 663.2L196.8 662.3L196.8 651.3L197.8 649.6L197.8 661.7L198.9 663.2L198.9 649.3L199.9 654.6L199.9 661L200.9 661.2L200.9 655.4L202 654.4L202 660.8L203 661.1L203 654.5L204.1 654.2L204.1 660.3L205.1 660.5L205.1 655L206.2 655.5L206.2 660.6L207.2 660.5L207.2 654.6L208.2 655.4L208.2 660.5L209.3 660.9L209.3 654.3L210.3 654.3L210.3 661.1L211.4 660.7L211.4 654.9L212.4 654L212.4 661L213.5 660.8L213.5 655.3L214.5 654L214.5 661L215.5 660.8L215.5 654.8L216.6 657L216.6 658.5L217.6 658.8L217.6 657L218.7 656.9L218.7 658.5L219.7 658.6L219.7 656.9L220.8 657.3L220.8 658.6L221.8 658.7L221.8 657.3L222.8 657.1L222.8 658.8L223.9 658.5L223.9 657.3L224.9 657L224.9 658.5L226 658.6L226 657.1L227 657.1L227 658.6L228.1 658.7L228.1 657.2L229.1 657.2L229.1 658.5L230.1 658.7L230.1 656.9L231.2 657L231.2 658.5L232.2 658.5L232.2 657.4L233.3 657.3L233.3 658.5L234.3 658.5L234.3 657.1L235.4 657.2L235.4 658.5L236.4 659L236.4 656.6L237.4 655.5L237.4 659.8L238.5 659.8L238.5 655.3L239.5 654.2L239.5 659.7L240.6 659.9L240.6 654.3L241.6 654.4L241.6 660L242.7 660.6L242.7 654.9L243.7 654.8L243.7 660.3L244.7 660.1L244.7 654.5L245.8 654.5L245.8 660.2L246.8 659.4L246.8 656L247.9 656.2L247.9 659.5L248.9 659.1L248.9 656L250 656.5L250 659L251 658.5L251 657.3L252.1 657.1L252.1 658.6L253.1 658.5L253.1 657.1L254.1 657.2L254.1 658.6L255.2 658.5L255.2 657.3L256.2 657.3L256.2 658.6L257.3 658.5L257.3 657.3L258.3 657.1L258.3 658.5L259.4 658.6L259.4 657.3L260.4 657.3L260.4 658.4L261.4 658.6L261.4 657.1L262.5 657.1L262.5 658.6L263.5 658.5L263.5 657.1L264.6 657.2L264.6 658.5L265.6 658.6L265.6 657.4L266.7 657.4L266.7 658.5L267.7 658.4L267.7 657.3L268.7 657.2L268.7 658.4L269.8 658.6L269.8 657.2L270.8 657.3L270.8 658.5L271.9 658.5L271.9 657.1L272.9 657.4L272.9 658.4L274 658.4L274 657.4L275 657.4L275 658.5L276 658.4L276 657.4L277.1 657.4L277.1 658.4L278.1 658.4L278.1 657.5L279.2 657.4L279.2 658.4L280.2 658.6L280.2 657.5L281.3 657.3L281.3 658.5L282.3 658.5L282.3 657.2L283.3 657.4L283.3 658.4L284.4 658.4L284.4 657.3L285.4 657.3L285.4 658.5L286.5 658.5L286.5 657.2L287.5 657.3L287.5 658.4L288.6 658.4L288.6 657.3L289.6 657.4L289.6 658.4L290.6 658.3L290.6 657.3L291.7 657.5L291.7 658.4L292.7 658.5L292.7 657.4L293.8 657.3L293.8 658.4L294.8 658.4L294.8 657.5L295.9 657.3L295.9 658.4L296.9 658.3L296.9 657.3L297.9 657.5L297.9 658.4L299 658.5L299 657.5L300 657.6L300 658.4L301.1 658.4L301.1 657.3L302.1 657.5L302.1 658.3L303.2 658.3L303.2 657.5L304.2 657.5L304.2 658.4L305.2 658.4L305.2 657.6L306.3 657.5L306.3 658.3L307.3 658.3L307.3 657.5L308.4 657.4L308.4 658.4L309.4 658.3L309.4 657.5L310.5 657.5L310.5 658.4L311.5 658.4L311.5 657.4L312.6 657.5L312.6 658.4L313.6 658.3L313.6 657.4L314.6 657.6L314.6 658.3L315.7 658.3L315.7 657.5L316.7 657.5L316.7 658.4L317.8 658.3L317.8 657.4L318.8 657.4L318.8 658.4L319.9 658.3L319.9 657.5L320.9 657.5L320.9 658.3L321.9 658.4L321.9 657.4L323 657.5L323 658.4L324 658.3L324 657.4L325.1 657.4L325.1 658.3L326.1 658.3L326.1 657.5L327.2 657.5L327.2 658.4L328.2 658.3L328.2 657.6L329.2 657.5L329.2 658.4L330.3 658.3L330.3 657.4L331.3 657.5L331.3 658.4L332.4 658.4L332.4 657.6L333.4 657.6L333.4 658.3L334.5 658.3L334.5 657.6L335.5 657.6L335.5 658.4L336.5 658.4L336.5 657.6L337.6 657.5L337.6 658.3L338.6 658.4L338.6 657.6L339.7 657.4L339.7 658.3L340.7 658.3L340.7 657.5L341.8 657.5L341.8 658.3L342.8 658.3L342.8 657.5L343.8 657.6L343.8 658.3L344.9 658.3L344.9 657.6L345.9 657.6L345.9 658.4L347 658.4L347 657.4L348 657.6L348 658.3L349.1 658.4L349.1 657.5L350.1 657.4L350.1 658.4L351.1 658.3L351.1 657.5L352.2 657.6L352.2 658.4L353.2 658.4L353.2 657.4L354.3 657.5L354.3 658.4L355.3 658.4L355.3 657.6L356.4 657.6L356.4 658.3L357.4 658.3L357.4 657.5L358.4 657.6L358.4 658.4L359.5 658.8L359.5 657.3L360.5 657L360.5 658.8L361.6 659.4L361.6 656.9L362.6 654.1L362.6 661.8L363.7 661.9L363.7 654.5L364.7 654.9L364.7 662.5L365.7 661L365.7 655.1L366.8 655.9L366.8 660.2L367.8 660L367.8 655.4L368.9 656.1L368.9 660.1L369.9 659.9L369.9 655.9L371 656L371 659.6L372 659.6L372 656.9L373 657L373 659L374.1 658.9L374.1 657.2L375.1 657.6L375.1 658.3L376.2 658.4L376.2 657.5L377.2 657.5L377.2 658.3L378.3 658.4L378.3 657.5L379.3 657.4L379.3 658.3L380.4 658.4L380.4 657.4L381.4 657.4L381.4 658.4L382.4 658.4L382.4 657.5L383.5 657.6L383.5 658.4L384.5 658.4L384.5 657.5L385.6 657.5L385.6 658.3L386.6 658.4L386.6 657.5L387.7 657.5L387.7 658.3L388.7 658.4L388.7 657.4L389.7 657.4L389.7 658.4L390.8 658.4L390.8 657.6L391.8 657.4L391.8 658.3L392.9 658.3L392.9 657.5L393.9 657.6L393.9 658.3L395 658.4L395 657.5L396 657.5L396 658.4L397 658.4L397 657.5L398.1 657.5L398.1 658.3L399.1 658.4L399.1 657.6L400.2 657.5L400.2 658.3L401.2 658.3L401.2 657.5L402.3 657.6L402.3 658.3L403.3 658.3L403.3 657.5L404.3 656.9L404.3 659.1L405.4 659.5L405.4 656L406.4 654.5L406.4 660.1L407.5 660.9L407.5 654.1L408.5 654.9L408.5 661.4L409.6 660.3L409.6 654.5L410.6 654L410.6 661.3L411.6 660.9L411.6 655.1L412.7 654.3L412.7 661.4L413.7 660.3L413.7 655.3L414.8 655.9L414.8 659.8L415.8 660.4L415.8 655.4L416.9 656.1L416.9 659.5L417.9 659.2L417.9 656.9L418.9 657L418.9 658.8L420 658.3L420 657.5L421 657.6L421 658.4L422.1 658.4L422.1 657.5L423.1 657.6L423.1 658.4L424.2 658.4L424.2 657.5L425.2 657.6L425.2 658.3L426.2 658.4L426.2 657.5L427.3 657.4L427.3 658.3L428.3 658.3L428.3 657.6L429.4 657.6L429.4 658.3L430.4 658.4L430.4 657.4L431.5 657.4L431.5 658.4L432.5 658.4L432.5 657.5L433.5 657.4L433.5 658.4L434.6 658.3L434.6 657.4L435.6 657.5L435.6 658.4L436.7 658.3L436.7 657.4L437.7 657.6L437.7 658.3L438.8 658.3L438.8 657.4L439.8 657.5L439.8 658.3L440.8 658.4L440.8 657.6L441.9 657.5L441.9 658.4L442.9 658.3L442.9 657.4L444 657.5L444 658.3L445 658.3L445 657.6L446.1 657.6L446.1 658.3L447.1 658.4L447.1 657.6L448.2 657.5L448.2 658.4L449.2 658.4L449.2 657.4L450.2 657.5L450.2 658.4L451.3 658.4L451.3 657.6L452.3 657.5L452.3 658.4L453.4 658.4L453.4 657.6L454.4 657.6L454.4 658.4L455.5 658.4L455.5 657.5L456.5 657.5L456.5 658.4L457.5 658.4L457.5 657.5L458.6 657.6L458.6 658.4L459.6 658.3L459.6 657.5L460.7 657.5L460.7 658.3L461.7 658.3L461.7 657.4L462.8 657.6L462.8 658.4L463.8 658.3L463.8 657.5L464.8 657.5L464.8 658.3L465.9 658.3L465.9 657.5L466.9 657.4L466.9 658.4L468 658.4L468 657.5L469 657.5L469 658.4L470.1 658.4L470.1 657.5L471.1 657.4L471.1 658.4L472.1 658.3L472.1 657.4L473.2 657.6L473.2 658.3L474.2 658.3L474.2 657.5L475.3 657.5L475.3 658.4L476.3 658.3L476.3 657.5L477.4 657.4L477.4 658.3L478.4 658.4L478.4 657.5L479.4 657.5L479.4 658.4L480.5 658.3L480.5 657.5L481.5 657.4L481.5 658.4L482.6 658.3L482.6 657.5L483.6 657.5L483.6 658.4L484.7 658.4L484.7 657.5L485.7 657.4L485.7 658.3L486.7 658.3L486.7 657.4L487.8 657.6L487.8 658.4L488.8 658.4L488.8 657.6L489.9 657.5L489.9 658.4L490.9 658.4L490.9 657.6L492 657.6L492 658.3L493 658.3L493 657.6L494 657.5L494 658.4L495.1 658.3L495.1 657.5L496.1 657.5L496.1 658.3L497.2 658.4L497.2 657.5L498.2 657.5L498.2 658.4L499.3 658.4L499.3 657.4L500.3 657.4L500.3 658.3L501.3 658.3L501.3 657.4L502.4 657.5L502.4 658.3L503.4 658.3L503.4 657.4L504.5 657.5L504.5 658.3L505.5 658.3L505.5 657.4L506.6 657.6L506.6 658.3L507.6 658.3L507.6 657.6L508.6 657.6L508.6 658.3L509.7 658.3L509.7 657.6L510.7 657.4L510.7 658.4L511.8 658.3L511.8 657.5L512.8 657.6L512.8 658.4L513.9 658.3L513.9 657.6L514.9 657.5L514.9 658.4L516 658.4L516 657.5L517 657.4L517 658.4L518 658.4L518 657.5L519.1 657.6L519.1 658.4L520.1 658.3L520.1 657.5L521.2 657.6L521.2 658.3L522.2 658.3L522.2 657.6L523.3 657.6L523.3 658.4L524.3 658.4L524.3 657.5L525.3 657.5L525.3 658.3L526.4 658.3L526.4 657.5L527.4 656.1L527.4 660L528.5 660.3L528.5 655.5L529.5 656L529.5 659.9L530.6 660.6L530.6 655.4L531.6 656.1L531.6 659.9L532.6 660.6L532.6 655.7L533.7 655.6L533.7 660.2L534.7 659.7L534.7 656.2L535.8 656.2L535.8 660L536.8 659.9L536.8 655.6L537.9 656.3L537.9 660.7L538.9 660.1L538.9 655.9L539.9 657.6L539.9 658.4L541 658.3L541 657.4L542 657.4L542 658.4L543.1 658.3L543.1 657.6L544.1 657.4L544.1 658.3L545.2 658.4L545.2 657.5L546.2 657.6L546.2 658.3L547.2 658.3L547.2 657.6L548.3 657.5L548.3 658.4L549.3 658.4L549.3 657.5L550.4 657.6L550.4 658.4L551.4 658.4L551.4 657.6L552.5 657.5L552.5 658.3L553.5 658.3L553.5 657.5L554.5 657.5L554.5 658.4L555.6 658.3L555.6 657.6L556.6 657.6L556.6 658.3L557.7 658.4L557.7 657.5L558.7 657.5L558.7 658.4L559.8 658.3L559.8 657.4L560.8 657.6L560.8 658.3L561.8 658.4L561.8 657.5L562.9 657.4L562.9 658.3L563.9 658.3L563.9 657.4L565 657.6L565 658.4L566 658.3L566 657.4L567.1 657.5L567.1 658.3L568.1 658.4L568.1 657.6L569.1 657.6L569.1 658.3L570.2 658.4L570.2 657.5L571.2 657.4L571.2 658.3L572.3 658.3L572.3 657.5L573.3 657.6L573.3 658.4L574.4 658.4L574.4 657.6L575.4 657.5L575.4 658.3L576.5 658.4L576.5 657.4L577.5 657.5L577.5 658.3L578.5 658.7L578.5 657L579.6 655.8L579.6 659.5L580.6 660.6L580.6 655.2L581.7 654.5L581.7 661.4L582.7 661.3L582.7 653.1L583.8 652.6L583.8 661.4L584.8 662.1L584.8 653.6L585.8 653.7L585.8 662.1L586.9 661L586.9 653.3L587.9 654.1L587.9 660.1L589 659.9L589 655L590 654.9L590 660.4L591.1 659.8L591.1 655.7L592.1 656.8L592.1 659.1L593.1 659.5L593.1 656.6L594.2 655L594.2 660.5L595.2 661.2L595.2 654L596.3 653.8L596.3 661.6L597.3 661.5L597.3 653.3L598.4 654.7L598.4 661.9L599.4 661.4L599.4 653.2L600.4 652.5L600.4 662.6L601.5 662.1L601.5 654.1L602.5 654.7L602.5 661.3L603.6 660.3L603.6 653.7L604.6 654.3L604.6 660.5L605.7 660.3L605.7 655.4L606.7 655.6L606.7 659.6L607.7 659.5L607.7 656.5L608.8 657L608.8 658.7L609.8 658.4L609.8 657.4L610.9 657.5L610.9 658.3L611.9 658.3L611.9 657.4L613 657.5L613 658.3L614 658.3L614 657.4L615 657.6L615 658.4L616.1 658.3L616.1 657.5L617.1 657.4L617.1 658.3L618.2 658.3L618.2 657.4L619.2 657.4L619.2 658.3L620.3 658.4L620.3 657.4L621.3 657.5L621.3 658.3L622.3 658.3L622.3 657.6L623.4 657.5L623.4 658.3L624.4 658.3L624.4 657.5L625.5 657.6L625.5 658.3L626.5 658.4L626.5 657.6L627.6 657.5L627.6 658.4L628.6 658.4L628.6 657.6L629.6 657.6L629.6 658.3L630.7 658.4L630.7 657.5L631.7 657.6L631.7 658.4L632.8 658.5L632.8 657.5L633.8 656.1L633.8 659.7L634.9 660.9L634.9 655.1L635.9 654.8L635.9 661.8L636.9 661.4L636.9 651.6L638 653.1L638 661.9L639 663L639 653.6L640.1 652L640.1 663.3L641.1 664.7L641.1 650.4L642.2 650.8L642.2 663.1L643.2 663.2L643.2 653.6L644.3 654.1L644.3 662.4L645.3 660.9L645.3 652.9L646.3 653.4L646.3 661L647.4 660.6L647.4 654.2L648.4 655.3L648.4 659.6L649.5 659.3L649.5 656.2L650.5 657.1L650.5 658.7L651.6 658.4L651.6 657.6L652.6 657.6L652.6 658.4L653.6 658.4L653.6 657.6L654.7 657.6L654.7 658.4L655.7 659L655.7 656.4L656.8 656.4L656.8 659.6L657.8 659.2L657.8 656.7L658.9 656.9L658.9 659.4L659.9 659.2L659.9 656.9L660.9 656.4L660.9 659.2L662 659.3L662 656.4L663 656.7L663 659.6L664.1 659.3L664.1 656.6L665.1 656.6L665.1 659.6L666.2 659.6L666.2 656.6L667.2 656.4L667.2 659.5L668.2 659.2L668.2 656.7L669.3 657L669.3 659.2L670.3 659.5L670.3 657L671.4 657.5L671.4 658.3L672.4 658.3L672.4 657.6L673.5 657.6L673.5 658.4L674.5 658.3L674.5 657.4" stroke="#EDB120"/>
<path d="M48.6 658L50.3 658L51.2 664.7L52.2 662L53.7 660.2L54.5 659.7L57.2 659.2L74.7 658.4L111 657.7L238.5 657.2L528.1 657.2L528.5 657.6L528.9 657.2L550 657.2L550.4 657.6L550.8 657.2L674.5 657.2" stroke="#00FFFF"/>
<path d="M48.6 658L50.3 658L51.2 670.1L52.2 663.4L53.7 661.5L55.5 660.6L61 659.5L68.1 658.7L91.2 657.5L193.2 657.2L193.6 656.7L195.1 657.2L403.7 657.4L594.2 657.1L635.5 657.4L667.2 657.2L668.2 656.8L669.9 657.2L674.5 657.2" stroke="#FF00FF"/>
<path d="M48.6 658L50.3 658L51.2 666.1L52 662L53 660L53.9 659.4L68.5 658.6L92.5 658.1L193.2 657.3L193.6 657L194.1 657.3L361.2 657.2L361.6 657.5L362 657.3L372.2 657.3L517 657.2L517.4 657.5L517.8 657.2L674.5 657.2" stroke="#FFFF00"/>
<path d="M48.6 658L55.1 658.5L222.8 658L674.5 657.9" stroke="#00FF00"/>
<path d="M48.6 658L49.9 658.2L49.9 657.5L49.9 658.3L54.9 658.5L193.6 658L193.6 657.5L193.6 658.4L193.8 658L361.6 658L361.6 657.5L361.6 658.3L361.8 658L674.5 658" stroke="#FF0000"/>
<path d="M48.6 658.8L48.9 657.8L49.1 658.8L49.3 657.9L49.5 658.8L49.7 657.9L49.9 658.8L50.1 658L50.3 658.8L50.5 658.1L50.7 658.8L50.7 656.5L50.7 662L50.7 658L51.2 658.8L51.4 658.2L51.6 658.8L51.8 658.2L51.8 662L51.8 658.4L52 658.8L52.2 658.3L52.4 658.8L52.6 658.3L52.8 658.8L53 658.4L53.2 658.7L53.4 658.4L53.7 658.7L53.9 658.4L54.1 658.7L79.9 658.3L193.6 658L193.6 657.7L193.6 658L674.5 657.9" stroke="#0000FF"/>
</g>
<rect x="102.2" y="670.6" width="370.4" height="239.7" fill="#fff"/>
<path d="M163.9 670.6V910.3" stroke="#e1e1e1" stroke-width="1" fill="none"/>
<path d="M225.7 670.6V910.3" stroke="#e1e1e1" stroke-width="1" fill="none"/>
<path d="M287.4 670.6V910.3" stroke="#e1e1e1" stroke-width="1" fill="none"/>
<path d="M349.1 670.6V910.3" stroke="#e1e1e1" stroke-width="1" fill="none"/>
<path d="M410.9 670.6V910.3" stroke="#e1e1e1" stroke-width="1" fill="none"/>
<path d="M102.2 850.4H472.6" stroke="#e1e1e1" stroke-width="1" fill="none"/>
<path d="M102.2 790.5H472.6" stroke="#e1e1e1" stroke-width="1" fill="none"/>
<path d="M102.2 730.5H472.6" stroke="#e1e1e1" stroke-width="1" fill="none"/>
<g clip-path="url(#cib)" fill="none" stroke-width="2.5" stroke-linejoin="round" stroke-linecap="round">
<path d="M102.2 790.5L103.2 790.5L103.4 940.3L103.6 946.3L104.4 946.3L105.2 887.4L105.7 865.4L106.5 851.5L107.4 842.7L108.5 835.6L110.2 827.5L111.5 823.4L113.4 817.9L116.4 810.6L122.9 797.2L125 793.4L126.9 790.5L130 786.6L136.8 778.9L139.1 776.5L145.4 771.6L148.6 769.5L151.8 767.7L156.9 765.3L161.3 763.6L166.3 762.2L172.6 760.7L181.8 759L200.4 756.2L207.8 755.3L214.1 754.7L219.9 754.5L226.3 754.7L247.1 756.4L254.4 756.8L287.2 756.9L287.4 753.9L287.6 758.1L297 757.8L337.5 755.4L351.6 755.1L357.7 755.4L374 756.8L385.9 756.9L386.2 771.3L386.4 756.9L398.9 756.9L399.1 773.1L399.4 756.9L417 757.4L424.2 757.5L424.7 755.1L437.3 755.4L447.3 756.3L447.8 756.7L448.8 758.4L449.1 758.7L457 758.6L462.7 758.3L467.9 757.8L472.6 756.9" stroke="#00FFFF"/>
<path d="M102.2 790.5L103.2 790.5L103.4 946.3L105.2 946.3L105.8 917.9L106.6 896.9L108.9 865.6L111.8 834.3L114.2 817.5L117.6 799.3L119.1 792.8L120.8 786.4L122.8 779.8L124.4 775.2L126.3 771.3L128.9 767.3L130.7 765.2L131.8 764.4L132.9 764.1L134.3 765.9L134.5 765.6L135.5 762.9L137.1 761.9L140.2 760.9L143.4 760.1L150.8 758.9L154.2 758.1L157.6 756.9L159 755.7L160.1 756.1L162.7 758.3L163.7 758.7L164.4 758.5L166 757.6L167.5 757.4L171.8 757.1L182.2 756.9L187.8 756.3L188 734.1L188.5 752.4L188.6 754.5L188.9 754.6L191.6 754.9L205.9 755.7L206.9 750.3L207.3 751L208.3 755L209.1 755.1L210.9 754.8L212.2 754.4L213.2 749.9L213.6 749.1L214.4 749.3L215.3 749.8L219.1 753.1L222.6 754.6L224.8 755.1L234.1 756L243.1 756.5L252.3 756.8L287.2 756.9L288.6 759.3L293.6 759L306 757.3L311.8 756.9L312.3 764.7L313.2 764.4L314.1 763.7L317.6 758.9L318.5 758L319.3 757.6L328.5 755.9L338.6 754.9L346 754.5L353.2 754.6L378.5 756.3L405.8 757.3L422 757.4L423.7 756.9L424 756.6L424.8 749.4L425.1 748.5L426.4 749.1L429.4 751.9L430.6 752.7L434.3 753.5L443 754.4L445.2 754.9L447.3 755.7L447.8 757.4L448.8 763.8L449 764.6L449.5 764.6L451.1 763.9L454.8 760.8L457.7 759.5L462.7 757.8L468.3 756.9L468.9 738.9L469.3 738.9L469.4 739.5L469.9 755.7L471.1 756.2L472.6 756.3" stroke="#FF00FF"/>
<path d="M102.2 790.5L103.2 790.5L103.4 946.3L104.3 946.3L104.8 880.5L105.3 851L106 845.1L106.8 841.5L108.6 836.3L112.1 824.2L114.7 817.2L117.4 811.2L121.2 803.8L124.2 798.6L126.5 795.1L128.7 792.6L138.5 783.1L146 776.7L150 773.8L153.9 771.3L158.5 768.8L162.6 766.9L165 766L167.6 765.4L176.8 764.4L180.5 763.6L184.3 762.1L187.8 759.9L188 744.9L188.3 759.3L194.1 758.8L213.8 755.1L219.4 754.5L228.6 754.8L246.5 756.4L253.8 756.8L287.2 756.9L287.4 769.5L287.6 758.1L293.7 757.5L311.4 756.9L336.4 755.5L348.4 755.1L355.3 755.3L371.9 756.6L379.4 756.9L379.6 767.7L379.9 756.9L424.2 757.5L424.7 755.1L437.3 755.4L447.3 756.3L447.8 756.7L448.8 758.4L449.1 758.7L457 758.6L462.7 758.3L467.9 757.8L472.6 756.9" stroke="#FFFF00"/>
<path d="M102.2 790.5L103.2 800.2L104.2 807.7L105.2 812.4L105.7 813.6L106 813.8L106.6 813.3L108.1 810.5L109.1 809.5L111.6 807.4L114.5 805.5L118.3 803.7L122.6 802L128.4 800.2L134.1 798.7L148 795.8L161.2 793.8L175 792.4L205.3 790L216 789.3L224.9 789L312.1 788.5L312.1 792.8L312.2 788.5L449.1 788.1L449.3 785.7L472.6 785.7" stroke="#00FF00"/>
<path d="M102.2 790.5L102.9 798L102.9 766.5L102.9 802.4L103.1 799.1L104.5 809.8L105.3 812.8L105.9 813.8L107.1 808.9L108.1 807.1L110.5 805.3L113.3 803.8L116.2 803.4L119.5 803.2L123.6 802L128.9 800.6L143.8 797.4L153.4 795.6L167 793.8L188 792L188 768.6L188 810.2L188.1 792L209.5 790.2L222 789.6L287.4 789.1L287.4 769.5L287.4 801.8L287.5 789.1L312.1 789L312.1 792.2L312.2 789L329.4 788.8L329.4 787.5L329.4 792.8L329.5 788.8L335.6 788.8L335.6 785.7L335.7 788.8L402.2 788.5L402.2 786.3L402.3 788.5L407.8 788.5L407.8 786.3L407.9 788.5L424.4 788.4L424.4 785.7L424.6 788.4L426.3 788.4L426.3 786.9L426.4 788.4L445.4 788.3L445.4 786.3L445.4 791.6L445.6 788.3L449.1 788.3L449.1 792.2L449.3 788.3L472.6 788.2" stroke="#FF0000"/>
<path d="M102.2 826.4L102.3 781.3L102.4 826.8L102.6 784.6L102.7 827L102.8 787.7L102.9 827.2L103.1 790.7L103.2 827.2L103.3 793.5L103.4 827L103.4 722.7L103.4 946.3L103.4 790.5L103.7 826.8L103.8 798.8L103.9 826.3L104.1 801.2L104.1 946.3L104.1 808.4L104.2 825.7L104.3 803.4L104.4 824.9L104.5 805.5L104.7 823.9L104.8 807.3L104.9 822.8L105 809L105.2 821.4L105.3 810.4L105.4 819.8L105.5 811.7L105.7 818.1L105.8 812.7L105.9 816L106 813.5L106.2 813.8L106.5 813.5L108.2 810.4L109.9 808.8L111.8 807.2L114.2 805.7L117.3 804.1L120.7 802.7L127 800.6L133.1 798.9L142.1 796.9L150.6 795.3L165.2 793.3L188 791.3L188 776.1L188 791.6L188.1 791.3L204.3 790L221.3 789L287.4 788.7L287.4 785.7L287.4 795.2L287.5 788.7L404.7 788.2L404.7 794L404.8 788.2L468.9 788.1L468.9 785.1L469 788.1L472.6 788.1" stroke="#0000FF"/>
</g>
<path d="M163.9 910.3v-4M163.9 670.6v4M225.7 910.3v-4M225.7 670.6v4M287.4 910.3v-4M287.4 670.6v4M349.1 910.3v-4M349.1 670.6v4M410.9 910.3v-4M410.9 670.6v4M102.2 850.4h4M472.6 850.4h-4M102.2 790.5h4M472.6 790.5h-4M102.2 730.5h4M472.6 730.5h-4" stroke="#7d7d7d" stroke-width="1.1" fill="none"/>
<rect x="102.2" y="670.6" width="370.4" height="239.7" stroke="#7d7d7d" stroke-width="1.1" fill="none"/>
<rect x="473.8" y="737" width="201.2" height="190.6" fill="#fff" stroke="#222" stroke-width="1.3"/>
<path d="M478.7 748.6H528.3" stroke="#7E2F8E" stroke-width="3.2" fill="none"/>
<text x="532.9" y="752.9" font-size="13" text-anchor="start" font-weight="bold" fill="#1c1c1c" font-family="'Liberation Sans', Arial, Helvetica, sans-serif" stroke="#1c1c1c" stroke-width="0.25">PID-PSO</text>
<path d="M478.7 766.6H528.3" stroke="#77AC30" stroke-width="3.2" fill="none"/>
<text x="532.9" y="770.9" font-size="13" text-anchor="start" font-weight="bold" fill="#1c1c1c" font-family="'Liberation Sans', Arial, Helvetica, sans-serif" stroke="#1c1c1c" stroke-width="0.25">PID-GTO</text>
<path d="M478.7 785H528.3" stroke="#EDB120" stroke-width="3.2" fill="none"/>
<text x="532.9" y="789.6" font-size="13" text-anchor="start" font-weight="bold" fill="#1c1c1c" font-family="'Liberation Sans', Arial, Helvetica, sans-serif" stroke="#1c1c1c" stroke-width="0.25">PID-MPA</text>
<path d="M478.7 805.4H528.3" stroke="#00FFFF" stroke-width="3.2" fill="none"/>
<text x="532.9" y="812" font-size="13" text-anchor="start" font-weight="bold" fill="#1c1c1c" font-family="'Liberation Sans', Arial, Helvetica, sans-serif" stroke="#1c1c1c" stroke-width="0.25">PIDD<tspan dx="0.8" dy="-4.8" font-size="10.2">2</tspan><tspan dx="1.3" dy="4.8">-PSO</tspan></text>
<path d="M478.7 826.8H528.3" stroke="#FF00FF" stroke-width="3.2" fill="none"/>
<text x="532.9" y="834" font-size="13" text-anchor="start" font-weight="bold" fill="#1c1c1c" font-family="'Liberation Sans', Arial, Helvetica, sans-serif" stroke="#1c1c1c" stroke-width="0.25">PIDD<tspan dx="0.8" dy="-4.8" font-size="10.2">2</tspan><tspan dx="1.3" dy="4.8">-GTO</tspan></text>
<path d="M478.7 848.8H528.3" stroke="#FFFF00" stroke-width="3.2" fill="none"/>
<text x="532.9" y="856" font-size="13" text-anchor="start" font-weight="bold" fill="#1c1c1c" font-family="'Liberation Sans', Arial, Helvetica, sans-serif" stroke="#1c1c1c" stroke-width="0.25">PIDD<tspan dx="0.8" dy="-4.8" font-size="10.2">2</tspan><tspan dx="1.3" dy="4.8">-MPA</tspan></text>
<path d="M478.7 871.1H528.3" stroke="#00FF00" stroke-width="3.2" fill="none"/>
<text x="532.9" y="878.3" font-size="13" text-anchor="start" font-weight="bold" fill="#1c1c1c" font-family="'Liberation Sans', Arial, Helvetica, sans-serif" stroke="#1c1c1c" stroke-width="0.25">(FPIDD<tspan dx="0.8" dy="-4.8" font-size="10.2">2</tspan><tspan dx="1.3" dy="4.8">+PIDD</tspan><tspan dx="0.8" dy="-4.8" font-size="10.2">2</tspan><tspan dx="1.3" dy="4.8">)-PSO</tspan></text>
<path d="M478.7 892.5H528.3" stroke="#FF0000" stroke-width="3.2" fill="none"/>
<text x="532.9" y="900" font-size="13" text-anchor="start" font-weight="bold" fill="#1c1c1c" font-family="'Liberation Sans', Arial, Helvetica, sans-serif" stroke="#1c1c1c" stroke-width="0.25">(FPIDD<tspan dx="0.8" dy="-4.8" font-size="10.2">2</tspan><tspan dx="1.3" dy="4.8">+PIDD</tspan><tspan dx="0.8" dy="-4.8" font-size="10.2">2</tspan><tspan dx="1.3" dy="4.8">)-GTO</tspan></text>
<path d="M478.7 914.8H528.3" stroke="#0000FF" stroke-width="3.2" fill="none"/>
<text x="532.9" y="922" font-size="13" text-anchor="start" font-weight="bold" fill="#1c1c1c" font-family="'Liberation Sans', Arial, Helvetica, sans-serif" stroke="#1c1c1c" stroke-width="0.25">(FPIDD<tspan dx="0.8" dy="-4.8" font-size="10.2">2</tspan><tspan dx="1.3" dy="4.8">+PIDD</tspan><tspan dx="0.8" dy="-4.8" font-size="10.2">2</tspan><tspan dx="1.3" dy="4.8">)-MPA</tspan></text>
<text x="96.5" y="915.6" font-size="14.6" text-anchor="end" font-weight="bold" fill="#2b2b2b" font-family="'Liberation Sans', Arial, Helvetica, sans-serif" stroke="#2b2b2b" stroke-width="0.25">-0.02</text>
<text x="96.5" y="855.7" font-size="14.6" text-anchor="end" font-weight="bold" fill="#2b2b2b" font-family="'Liberation Sans', Arial, Helvetica, sans-serif" stroke="#2b2b2b" stroke-width="0.25">-0.01</text>
<text x="96.5" y="795.8" font-size="14.6" text-anchor="end" font-weight="bold" fill="#2b2b2b" font-family="'Liberation Sans', Arial, Helvetica, sans-serif" stroke="#2b2b2b" stroke-width="0.25">0</text>
<text x="96.5" y="735.8" font-size="14.6" text-anchor="end" font-weight="bold" fill="#2b2b2b" font-family="'Liberation Sans', Arial, Helvetica, sans-serif" stroke="#2b2b2b" stroke-width="0.25">0.01</text>
<text x="96.5" y="675.9" font-size="14.6" text-anchor="end" font-weight="bold" fill="#2b2b2b" font-family="'Liberation Sans', Arial, Helvetica, sans-serif" stroke="#2b2b2b" stroke-width="0.25">0.02</text>
<text x="102.2" y="931.3" font-size="14.6" text-anchor="middle" font-weight="bold" fill="#2b2b2b" font-family="'Liberation Sans', Arial, Helvetica, sans-serif" stroke="#2b2b2b" stroke-width="0.25">0</text>
<text x="163.9" y="931.3" font-size="14.6" text-anchor="middle" font-weight="bold" fill="#2b2b2b" font-family="'Liberation Sans', Arial, Helvetica, sans-serif" stroke="#2b2b2b" stroke-width="0.25">50</text>
<text x="225.7" y="931.3" font-size="14.6" text-anchor="middle" font-weight="bold" fill="#2b2b2b" font-family="'Liberation Sans', Arial, Helvetica, sans-serif" stroke="#2b2b2b" stroke-width="0.25">100</text>
<text x="287.4" y="931.3" font-size="14.6" text-anchor="middle" font-weight="bold" fill="#2b2b2b" font-family="'Liberation Sans', Arial, Helvetica, sans-serif" stroke="#2b2b2b" stroke-width="0.25">150</text>
<text x="349.1" y="931.3" font-size="14.6" text-anchor="middle" font-weight="bold" fill="#2b2b2b" font-family="'Liberation Sans', Arial, Helvetica, sans-serif" stroke="#2b2b2b" stroke-width="0.25">200</text>
<text x="410.9" y="931.3" font-size="14.6" text-anchor="middle" font-weight="bold" fill="#2b2b2b" font-family="'Liberation Sans', Arial, Helvetica, sans-serif" stroke="#2b2b2b" stroke-width="0.25">250</text>
<text x="472.6" y="931.3" font-size="14.6" text-anchor="middle" font-weight="bold" fill="#2b2b2b" font-family="'Liberation Sans', Arial, Helvetica, sans-serif" stroke="#2b2b2b" stroke-width="0.25">300</text>
<g filter="url(#sh)">
<ellipse cx="64.7" cy="664.3" rx="23" ry="24.6" fill="none" stroke="#000" stroke-width="1.6"/>
<path d="M79.6 679.4L95 702.6" stroke="#000" stroke-width="1.7" fill="none"/>
<path d="M99.8 709.8L98.6 697L89.1 703.5Z" fill="#000"/>
</g>
<text x="361.7" y="963.3" font-size="15" text-anchor="middle" font-weight="bold" fill="#2b2b2b" font-family="'Liberation Sans', Arial, Helvetica, sans-serif" stroke="#2b2b2b" stroke-width="0.25" textLength="109.5" lengthAdjust="spacingAndGlyphs">Time (Seconds)</text>
<text transform="translate(12.3 725.4) rotate(-90)" font-size="15.6" textLength="57.5" lengthAdjust="spacingAndGlyphs" text-anchor="middle" font-weight="bold" fill="#2b2b2b" font-family="'Liberation Sans', Arial, Helvetica, sans-serif">Δf<tspan dy="4.5" font-size="11.5">2</tspan><tspan dy="-4.5"> (Hz)</tspan></text>
<text x="381.5" y="999.9" font-size="18.8" text-anchor="middle" font-weight="normal" fill="#111" font-family="'Liberation Serif', 'Times New Roman', Times, serif">(b)</text>
</svg>
</body></html>
